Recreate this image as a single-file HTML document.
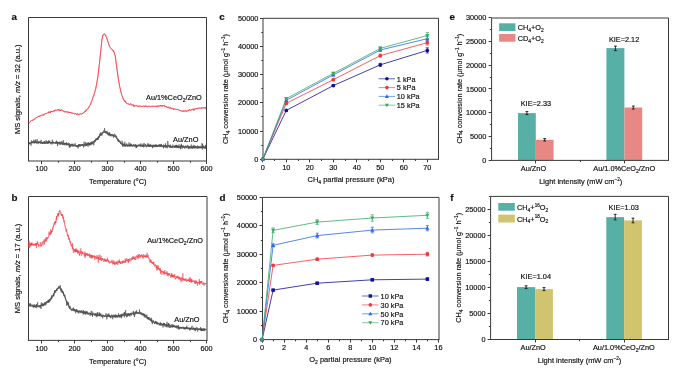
<!DOCTYPE html>
<html><head><meta charset="utf-8"><style>
html,body{margin:0;padding:0;background:#fff;}
body{width:685px;height:373px;overflow:hidden;}
svg{display:block;will-change:transform;font-family:"Liberation Sans",sans-serif;fill:#111;}
text{stroke:#111;stroke-width:0.17px;}
</style></head><body>
<svg width="685" height="373" viewBox="0 0 685 373">
<rect width="685" height="373" fill="#fff"/>
<line x1="28.5" y1="17.5" x2="28.5" y2="161.0" stroke="#3a3a3a" stroke-width="1" />
<line x1="28.0" y1="161.0" x2="207.0" y2="161.0" stroke="#3a3a3a" stroke-width="1" />
<line x1="28.5" y1="17.5" x2="206.5" y2="17.5" stroke="#3a3a3a" stroke-width="1" />
<line x1="206.5" y1="17.5" x2="206.5" y2="161.0" stroke="#3a3a3a" stroke-width="1" />
<line x1="41.5" y1="161.0" x2="41.5" y2="164.0" stroke="#3a3a3a" stroke-width="1" />
<line x1="58.5" y1="161.0" x2="58.5" y2="162.7" stroke="#3a3a3a" stroke-width="1" />
<line x1="74.5" y1="161.0" x2="74.5" y2="164.0" stroke="#3a3a3a" stroke-width="1" />
<line x1="91.5" y1="161.0" x2="91.5" y2="162.7" stroke="#3a3a3a" stroke-width="1" />
<line x1="107.5" y1="161.0" x2="107.5" y2="164.0" stroke="#3a3a3a" stroke-width="1" />
<line x1="124.5" y1="161.0" x2="124.5" y2="162.7" stroke="#3a3a3a" stroke-width="1" />
<line x1="140.5" y1="161.0" x2="140.5" y2="164.0" stroke="#3a3a3a" stroke-width="1" />
<line x1="157.5" y1="161.0" x2="157.5" y2="162.7" stroke="#3a3a3a" stroke-width="1" />
<line x1="173.5" y1="161.0" x2="173.5" y2="164.0" stroke="#3a3a3a" stroke-width="1" />
<line x1="190.5" y1="161.0" x2="190.5" y2="162.7" stroke="#3a3a3a" stroke-width="1" />
<line x1="206.5" y1="161.0" x2="206.5" y2="164.0" stroke="#3a3a3a" stroke-width="1" />
<text transform="translate(41.5 170.9) scale(1 1.08)" font-size="7.35" text-anchor="middle" font-weight="normal" >100</text>
<text transform="translate(74.5 170.9) scale(1 1.08)" font-size="7.35" text-anchor="middle" font-weight="normal" >200</text>
<text transform="translate(107.5 170.9) scale(1 1.08)" font-size="7.35" text-anchor="middle" font-weight="normal" >300</text>
<text transform="translate(140.5 170.9) scale(1 1.08)" font-size="7.35" text-anchor="middle" font-weight="normal" >400</text>
<text transform="translate(173.5 170.9) scale(1 1.08)" font-size="7.35" text-anchor="middle" font-weight="normal" >500</text>
<text transform="translate(206.5 170.9) scale(1 1.08)" font-size="7.35" text-anchor="middle" font-weight="normal" >600</text>
<text transform="translate(117.8 184.0) scale(1 1.08)" font-size="7.5" text-anchor="middle" font-weight="normal" >Temperature (°C)</text>
<text transform="translate(19.9,89.25) rotate(-90)" font-size="7.5" text-anchor="middle">MS signals, <tspan font-style="italic">m/z</tspan> = 32 (a.u.)</text>
<line x1="28.5" y1="196.5" x2="28.5" y2="340.4" stroke="#3a3a3a" stroke-width="1" />
<line x1="28.0" y1="340.4" x2="207.5" y2="340.4" stroke="#3a3a3a" stroke-width="1" />
<line x1="28.5" y1="196.5" x2="207.0" y2="196.5" stroke="#3a3a3a" stroke-width="1" />
<line x1="207.0" y1="196.5" x2="207.0" y2="340.4" stroke="#3a3a3a" stroke-width="1" />
<line x1="41.5" y1="340.4" x2="41.5" y2="343.4" stroke="#3a3a3a" stroke-width="1" />
<line x1="58.5" y1="340.4" x2="58.5" y2="342.09999999999997" stroke="#3a3a3a" stroke-width="1" />
<line x1="74.5" y1="340.4" x2="74.5" y2="343.4" stroke="#3a3a3a" stroke-width="1" />
<line x1="91.5" y1="340.4" x2="91.5" y2="342.09999999999997" stroke="#3a3a3a" stroke-width="1" />
<line x1="107.5" y1="340.4" x2="107.5" y2="343.4" stroke="#3a3a3a" stroke-width="1" />
<line x1="124.5" y1="340.4" x2="124.5" y2="342.09999999999997" stroke="#3a3a3a" stroke-width="1" />
<line x1="140.5" y1="340.4" x2="140.5" y2="343.4" stroke="#3a3a3a" stroke-width="1" />
<line x1="157.5" y1="340.4" x2="157.5" y2="342.09999999999997" stroke="#3a3a3a" stroke-width="1" />
<line x1="173.5" y1="340.4" x2="173.5" y2="343.4" stroke="#3a3a3a" stroke-width="1" />
<line x1="190.5" y1="340.4" x2="190.5" y2="342.09999999999997" stroke="#3a3a3a" stroke-width="1" />
<line x1="206.5" y1="340.4" x2="206.5" y2="343.4" stroke="#3a3a3a" stroke-width="1" />
<text transform="translate(41.5 350.5) scale(1 1.08)" font-size="7.35" text-anchor="middle" font-weight="normal" >100</text>
<text transform="translate(74.5 350.5) scale(1 1.08)" font-size="7.35" text-anchor="middle" font-weight="normal" >200</text>
<text transform="translate(107.5 350.5) scale(1 1.08)" font-size="7.35" text-anchor="middle" font-weight="normal" >300</text>
<text transform="translate(140.5 350.5) scale(1 1.08)" font-size="7.35" text-anchor="middle" font-weight="normal" >400</text>
<text transform="translate(173.5 350.5) scale(1 1.08)" font-size="7.35" text-anchor="middle" font-weight="normal" >500</text>
<text transform="translate(206.5 350.5) scale(1 1.08)" font-size="7.35" text-anchor="middle" font-weight="normal" >600</text>
<text transform="translate(117.8 363.6) scale(1 1.08)" font-size="7.5" text-anchor="middle" font-weight="normal" >Temperature (°C)</text>
<text transform="translate(19.9,268.45) rotate(-90)" font-size="7.5" text-anchor="middle">MS signals, <tspan font-style="italic">m/z</tspan> = 17 (a.u.)</text>
<text x="11.6" y="20.2" font-size="9.8" font-weight="bold">a</text>
<text x="11.6" y="200.7" font-size="9.8" font-weight="bold">b</text>
<polyline points="28.30,123.05 29.10,122.44 29.90,121.93 30.70,121.16 31.50,120.73 32.30,120.14 33.10,119.52 33.90,119.05 34.70,118.64 35.50,118.07 36.30,117.74 37.10,117.49 37.90,116.55 38.70,116.50 39.50,116.18 40.30,116.07 41.10,115.38 41.90,115.18 42.70,114.69 43.50,114.46 44.30,113.96 45.10,113.81 45.90,113.51 46.70,113.24 47.50,113.03 48.30,112.72 49.10,112.51 49.90,112.28 50.70,112.04 51.50,111.51 52.30,111.45 53.10,111.06 53.90,110.95 54.70,110.69 55.50,110.19 56.30,110.36 57.10,109.92 57.90,109.96 58.70,109.86 59.50,109.96 60.30,110.22 61.10,110.10 61.90,110.69 62.70,110.74 63.50,111.15 64.30,111.44 65.10,111.51 65.90,111.84 66.70,111.84 67.50,111.83 68.30,112.10 69.10,112.33 69.90,112.67 70.70,112.54 71.50,113.06 72.30,112.91 73.10,113.17 73.90,113.41 74.70,113.53 75.50,113.69 76.30,114.22 77.10,113.84 77.90,114.64 78.70,114.21 79.50,114.29 80.30,114.26 81.10,114.02 81.90,113.72 82.70,113.29 83.50,112.88 84.30,112.25 85.10,111.82 85.90,111.17 86.70,110.20 87.50,109.26 88.30,108.22 89.10,106.76 89.90,105.38 90.70,103.48 91.50,101.33 92.30,99.62 93.10,97.26 93.90,95.15 94.70,92.75 95.50,89.42 96.30,85.79 97.10,81.29 97.90,75.92 98.70,69.90 99.50,63.10 100.30,55.34 101.10,46.82 101.90,40.21 102.70,35.90 103.50,34.51 104.30,34.00 105.10,34.46 105.90,35.76 106.70,37.80 107.50,40.61 108.30,43.57 109.10,45.21 109.90,47.01 110.70,48.27 111.50,49.20 112.30,50.10 113.10,50.85 113.90,52.15 114.70,54.09 115.50,57.94 116.30,63.85 117.10,69.94 117.90,76.08 118.70,80.98 119.50,85.38 120.30,89.35 121.10,92.55 121.90,95.49 122.70,97.30 123.50,99.04 124.30,100.54 125.10,101.67 125.90,102.74 126.70,102.99 127.50,103.73 128.30,104.17 129.10,104.55 129.90,104.84 130.70,104.82 131.50,105.17 132.30,105.16 133.10,105.20 133.90,105.59 134.70,105.73 135.50,105.97 136.30,105.87 137.10,105.71 137.90,106.01 138.70,106.26 139.50,105.95 140.30,106.35 141.10,106.23 141.90,106.18 142.70,106.36 143.50,106.17 144.30,106.26 145.10,106.41 145.90,106.42 146.70,106.29 147.50,106.64 148.30,106.32 149.10,106.34 149.90,106.42 150.70,106.59 151.50,106.44 152.30,106.36 153.10,106.31 153.90,106.35 154.70,106.21 155.50,106.17 156.30,106.37 157.10,106.23 157.90,106.29 158.70,106.15 159.50,106.16 160.30,106.33 161.10,106.14 161.90,106.04 162.70,105.91 163.50,105.49 164.30,105.76 165.10,106.01 165.90,106.57 166.70,106.90 167.50,107.10 168.30,107.48 169.10,107.90 169.90,108.19 170.70,108.43 171.50,108.60 172.30,108.78 173.10,108.74 173.90,108.97 174.70,109.19 175.50,109.29 176.30,109.65 177.10,109.43 177.90,109.49 178.70,109.97 179.50,110.10 180.30,110.53 181.10,110.82 181.90,110.94 182.70,111.18 183.50,111.27 184.30,111.25 185.10,111.09 185.90,111.00 186.70,110.96 187.50,110.71 188.30,110.45 189.10,110.33 189.90,109.91 190.70,110.01 191.50,109.83 192.30,109.14 193.10,109.07 193.90,108.87 194.70,108.97 195.50,108.83 196.30,108.56 197.10,108.43 197.90,108.39 198.70,108.38 199.50,108.19 200.30,108.27 201.10,108.23 201.90,107.89 202.70,107.93 203.50,107.63 204.30,107.65 205.10,107.82 205.90,107.74" fill="none" stroke="#f0343c" stroke-width="0.9" stroke-linejoin="round" stroke-opacity="0.6"/>
<polyline points="28.30,122.81 28.70,122.72 29.10,122.79 29.50,123.06 29.90,122.22 30.30,121.39 30.70,121.25 31.10,120.74 31.50,120.33 31.90,120.32 32.30,120.23 32.70,120.70 33.10,119.64 33.50,119.97 33.90,119.91 34.30,118.91 34.70,119.36 35.10,118.72 35.50,117.99 35.90,118.07 36.30,117.75 36.70,117.42 37.10,117.23 37.50,117.18 37.90,117.11 38.30,116.32 38.70,116.52 39.10,115.65 39.50,116.26 39.90,116.24 40.30,115.86 40.70,115.73 41.10,115.69 41.50,114.96 41.90,114.98 42.30,115.15 42.70,115.21 43.10,114.77 43.50,115.58 43.90,114.24 44.30,114.57 44.70,114.54 45.10,113.76 45.50,113.30 45.90,112.99 46.30,113.45 46.70,113.73 47.10,113.21 47.50,113.03 47.90,112.64 48.30,112.93 48.70,111.59 49.10,112.52 49.50,112.30 49.90,111.54 50.30,113.01 50.70,111.29 51.10,111.31 51.50,111.13 51.90,112.06 52.30,111.04 52.70,111.62 53.10,111.46 53.50,111.18 53.90,110.34 54.30,110.52 54.70,111.41 55.10,109.95 55.50,110.04 55.90,110.23 56.30,110.56 56.70,110.22 57.10,110.36 57.50,109.49 57.90,110.35 58.30,110.16 58.70,109.19 59.10,110.62 59.50,111.00 59.90,109.69 60.30,110.14 60.70,110.85 61.10,109.66 61.50,109.55 61.90,109.98 62.30,110.44 62.70,110.57 63.10,111.23 63.50,111.21 63.90,110.65 64.30,111.58 64.70,112.27 65.10,112.06 65.50,112.06 65.90,111.70 66.30,112.22 66.70,111.43 67.10,112.28 67.50,111.99 67.90,112.62 68.30,112.40 68.70,111.78 69.10,112.40 69.50,112.97 69.90,111.99 70.30,112.33 70.70,112.31 71.10,112.07 71.50,113.25 71.90,113.50 72.30,113.36 72.70,113.21 73.10,113.18 73.50,113.41 73.90,113.08 74.30,113.92 74.70,114.09 75.10,114.15 75.50,113.59 75.90,113.96 76.30,113.94 76.70,114.90 77.10,114.26 77.50,113.39 77.90,114.48 78.30,115.19 78.70,114.68 79.10,114.79 79.50,114.41 79.90,113.48 80.30,113.49 80.70,113.64 81.10,114.02 81.50,114.06 81.90,114.06 82.30,113.40 82.70,113.77 83.10,112.99 83.50,112.56 83.90,113.02 84.30,111.99 84.70,110.91 85.10,111.35 85.50,111.53 85.90,109.72 86.30,110.52 86.70,110.08 87.10,109.10 87.50,108.56 87.90,108.47 88.30,107.87 88.70,108.08 89.10,107.07 89.50,105.51 89.90,105.05 90.30,104.89 90.70,104.49 91.10,102.82 91.50,101.76 91.90,101.40 92.30,99.49 92.70,98.29 93.10,96.71 93.50,96.00 93.90,96.03 94.30,93.17 94.70,92.49 95.10,90.42 95.50,89.56 95.90,88.16 96.30,85.69 96.70,83.96 97.10,81.62 97.50,79.00 97.90,76.92 98.30,73.55 98.70,69.84 99.10,66.26 99.50,62.63 99.90,59.58 100.30,55.13 100.70,52.20 101.10,47.78 101.50,43.41 101.90,39.95 102.30,38.10 102.70,35.16 103.10,35.09 103.50,35.15 103.90,33.89 104.30,33.84 104.70,33.86 105.10,34.62 105.50,35.01 105.90,35.93 106.30,36.87 106.70,37.66 107.10,39.52 107.50,40.21 107.90,41.38 108.30,42.53 108.70,43.64 109.10,45.11 109.50,46.73 109.90,47.18 110.30,47.56 110.70,47.96 111.10,48.69 111.50,49.15 111.90,49.43 112.30,49.39 112.70,50.21 113.10,51.34 113.50,50.48 113.90,52.06 114.30,52.09 114.70,54.23 115.10,55.29 115.50,57.04 115.90,60.93 116.30,64.70 116.70,66.86 117.10,70.51 117.50,73.15 117.90,75.20 118.30,78.97 118.70,80.97 119.10,82.76 119.50,85.89 119.90,87.63 120.30,89.06 120.70,91.38 121.10,92.21 121.50,94.39 121.90,95.01 122.30,96.80 122.70,96.99 123.10,99.02 123.50,99.25 123.90,100.51 124.30,100.16 124.70,100.90 125.10,102.02 125.50,100.86 125.90,102.01 126.30,103.33 126.70,103.41 127.10,103.95 127.50,103.64 127.90,104.27 128.30,103.89 128.70,103.76 129.10,103.75 129.50,104.39 129.90,104.50 130.30,104.56 130.70,103.34 131.10,104.12 131.50,104.87 131.90,105.32 132.30,105.01 132.70,104.96 133.10,104.39 133.50,106.42 133.90,105.09 134.30,106.41 134.70,106.43 135.10,105.91 135.50,105.59 135.90,105.96 136.30,105.44 136.70,106.12 137.10,106.04 137.50,106.31 137.90,106.53 138.30,106.90 138.70,105.97 139.10,106.64 139.50,105.83 139.90,105.81 140.30,105.95 140.70,105.81 141.10,106.71 141.50,106.70 141.90,106.87 142.30,106.31 142.70,106.45 143.10,106.08 143.50,105.84 143.90,106.57 144.30,106.50 144.70,105.89 145.10,106.65 145.50,105.61 145.90,106.32 146.30,106.12 146.70,106.16 147.10,105.91 147.50,106.83 147.90,106.65 148.30,106.93 148.70,106.46 149.10,105.82 149.50,106.23 149.90,105.86 150.30,106.60 150.70,106.94 151.10,106.54 151.50,106.12 151.90,106.23 152.30,106.49 152.70,105.74 153.10,106.46 153.50,106.48 153.90,106.15 154.30,106.20 154.70,106.47 155.10,106.02 155.50,106.02 155.90,106.73 156.30,106.47 156.70,107.12 157.10,105.90 157.50,105.53 157.90,106.73 158.30,106.72 158.70,105.93 159.10,105.58 159.50,106.20 159.90,105.41 160.30,106.01 160.70,105.14 161.10,105.95 161.50,105.04 161.90,105.83 162.30,106.56 162.70,105.71 163.10,106.14 163.50,105.50 163.90,105.41 164.30,105.22 164.70,106.48 165.10,106.14 165.50,107.07 165.90,105.99 166.30,106.60 166.70,106.90 167.10,107.65 167.50,107.98 167.90,107.02 168.30,106.95 168.70,106.83 169.10,108.37 169.50,107.87 169.90,107.76 170.30,108.16 170.70,107.15 171.10,107.63 171.50,108.92 171.90,108.76 172.30,108.73 172.70,108.29 173.10,109.08 173.50,109.68 173.90,108.39 174.30,109.02 174.70,108.88 175.10,109.30 175.50,109.21 175.90,109.20 176.30,108.94 176.70,109.40 177.10,109.21 177.50,109.50 177.90,109.62 178.30,110.05 178.70,109.61 179.10,109.87 179.50,110.65 179.90,110.23 180.30,110.37 180.70,111.04 181.10,110.92 181.50,110.97 181.90,111.13 182.30,110.56 182.70,111.37 183.10,111.77 183.50,111.43 183.90,110.46 184.30,111.27 184.70,110.70 185.10,110.98 185.50,111.10 185.90,110.47 186.30,111.56 186.70,110.88 187.10,111.23 187.50,111.09 187.90,111.32 188.30,111.15 188.70,109.83 189.10,110.39 189.50,109.28 189.90,109.91 190.30,110.31 190.70,110.28 191.10,110.34 191.50,109.48 191.90,109.69 192.30,109.48 192.70,109.89 193.10,109.93 193.50,108.95 193.90,110.72 194.30,108.92 194.70,108.68 195.10,109.04 195.50,109.04 195.90,108.88 196.30,108.27 196.70,109.17 197.10,108.47 197.50,109.08 197.90,108.96 198.30,107.71 198.70,107.79 199.10,107.74 199.50,108.25 199.90,108.12 200.30,108.18 200.70,107.66 201.10,108.18 201.50,108.58 201.90,107.31 202.30,107.79 202.70,107.95 203.10,107.75 203.50,107.69 203.90,108.54 204.30,108.29 204.70,108.07 205.10,107.32 205.50,108.65 205.90,107.78 206.30,107.34" fill="none" stroke="#f0343c" stroke-width="0.8" stroke-linejoin="round" stroke-opacity="0.9"/>
<polyline points="28.30,143.66 28.80,143.30 29.30,143.88 29.80,143.03 30.30,143.08 30.80,143.18 31.30,142.62 31.80,142.76 32.30,142.68 32.80,142.44 33.30,142.59 33.80,142.35 34.30,141.85 34.80,142.82 35.30,141.54 35.80,142.38 36.30,142.46 36.80,142.19 37.30,142.09 37.80,141.80 38.30,142.29 38.80,142.00 39.30,142.11 39.80,142.27 40.30,141.77 40.80,142.78 41.30,142.53 41.80,142.55 42.30,143.34 42.80,142.49 43.30,142.81 43.80,142.54 44.30,142.81 44.80,142.10 45.30,143.00 45.80,143.10 46.30,142.36 46.80,142.57 47.30,142.31 47.80,142.72 48.30,142.51 48.80,142.89 49.30,142.35 49.80,142.30 50.30,142.97 50.80,143.07 51.30,142.65 51.80,142.53 52.30,142.46 52.80,142.38 53.30,142.08 53.80,142.73 54.30,142.81 54.80,142.71 55.30,143.24 55.80,142.97 56.30,142.80 56.80,143.02 57.30,142.45 57.80,143.08 58.30,142.64 58.80,142.90 59.30,143.29 59.80,142.92 60.30,142.74 60.80,143.23 61.30,143.78 61.80,143.61 62.30,144.20 62.80,143.76 63.30,143.41 63.80,143.63 64.30,143.31 64.80,143.60 65.30,143.88 65.80,143.60 66.30,143.86 66.80,144.25 67.30,144.43 67.80,144.67 68.30,144.11 68.80,144.60 69.30,145.02 69.80,144.80 70.30,145.21 70.80,144.76 71.30,145.29 71.80,145.61 72.30,144.70 72.80,145.00 73.30,145.75 73.80,145.24 74.30,145.49 74.80,145.84 75.30,145.79 75.80,145.70 76.30,145.53 76.80,145.76 77.30,145.61 77.80,145.99 78.30,145.65 78.80,145.75 79.30,145.84 79.80,144.79 80.30,145.21 80.80,145.30 81.30,145.13 81.80,145.28 82.30,144.77 82.80,145.49 83.30,145.75 83.80,144.77 84.30,145.09 84.80,144.61 85.30,145.10 85.80,144.50 86.30,145.27 86.80,144.33 87.30,143.63 87.80,144.03 88.30,143.65 88.80,144.08 89.30,144.21 89.80,143.38 90.30,143.54 90.80,143.45 91.30,142.94 91.80,142.87 92.30,143.47 92.80,142.31 93.30,142.20 93.80,141.98 94.30,141.31 94.80,140.85 95.30,140.04 95.80,139.88 96.30,139.65 96.80,139.42 97.30,138.92 97.80,138.68 98.30,137.22 98.80,137.35 99.30,136.22 99.80,135.20 100.30,134.90 100.80,134.72 101.30,133.96 101.80,133.64 102.30,132.72 102.80,132.35 103.30,132.69 103.80,132.04 104.30,132.31 104.80,131.71 105.30,131.73 105.80,132.44 106.30,132.74 106.80,132.81 107.30,132.87 107.80,133.79 108.30,133.40 108.80,134.37 109.30,134.51 109.80,134.97 110.30,134.70 110.80,134.61 111.30,134.64 111.80,134.86 112.30,134.60 112.80,135.29 113.30,135.80 113.80,135.00 114.30,135.96 114.80,136.21 115.30,136.77 115.80,136.50 116.30,137.46 116.80,138.26 117.30,138.92 117.80,139.56 118.30,140.31 118.80,141.03 119.30,141.72 119.80,141.80 120.30,142.13 120.80,143.21 121.30,143.76 121.80,143.94 122.30,144.70 122.80,144.75 123.30,144.77 123.80,145.26 124.30,144.88 124.80,145.81 125.30,145.36 125.80,145.66 126.30,145.91 126.80,145.07 127.30,145.09 127.80,145.86 128.30,145.07 128.80,145.59 129.30,145.66 129.80,145.30 130.30,145.59 130.80,144.75 131.30,145.83 131.80,145.68 132.30,145.38 132.80,146.12 133.30,145.77 133.80,145.47 134.30,145.26 134.80,145.73 135.30,145.44 135.80,145.56 136.30,145.68 136.80,146.20 137.30,146.22 137.80,145.44 138.30,145.57 138.80,145.67 139.30,145.17 139.80,145.62 140.30,145.41 140.80,145.75 141.30,145.26 141.80,145.51 142.30,145.41 142.80,146.07 143.30,145.66 143.80,145.93 144.30,145.97 144.80,146.05 145.30,145.71 145.80,146.35 146.30,146.86 146.80,146.13 147.30,145.94 147.80,145.59 148.30,145.91 148.80,146.06 149.30,146.14 149.80,145.75 150.30,145.63 150.80,146.10 151.30,145.47 151.80,145.62 152.30,145.81 152.80,145.09 153.30,145.95 153.80,145.61 154.30,146.36 154.80,146.15 155.30,145.78 155.80,145.79 156.30,145.58 156.80,145.83 157.30,145.60 157.80,146.24 158.30,145.78 158.80,146.12 159.30,145.58 159.80,146.32 160.30,145.90 160.80,146.16 161.30,145.58 161.80,146.25 162.30,146.58 162.80,146.30 163.30,146.46 163.80,146.02 164.30,145.98 164.80,145.60 165.30,145.95 165.80,146.29 166.30,146.95 166.80,145.88 167.30,146.17 167.80,146.15 168.30,146.23 168.80,145.81 169.30,146.42 169.80,146.35 170.30,146.65 170.80,147.00 171.30,146.48 171.80,147.00 172.30,146.57 172.80,146.41 173.30,146.47 173.80,146.50 174.30,146.73 174.80,146.40 175.30,147.00 175.80,146.46 176.30,146.12 176.80,146.55 177.30,146.30 177.80,147.19 178.30,146.89 178.80,146.62 179.30,147.57 179.80,146.61 180.30,146.50 180.80,147.27 181.30,146.17 181.80,146.90 182.30,146.31 182.80,146.88 183.30,146.94 183.80,147.43 184.30,147.43 184.80,146.79 185.30,147.15 185.80,146.72 186.30,147.44 186.80,146.44 187.30,146.53 187.80,146.79 188.30,147.13 188.80,147.19 189.30,146.84 189.80,147.04 190.30,146.99 190.80,146.99 191.30,147.22 191.80,146.87 192.30,146.82 192.80,147.23 193.30,146.87 193.80,147.66 194.30,146.73 194.80,147.73 195.30,147.17 195.80,146.65 196.30,147.40 196.80,146.91 197.30,147.56 197.80,147.30 198.30,147.10 198.80,147.22 199.30,147.69 199.80,147.02 200.30,147.14 200.80,147.55 201.30,147.40 201.80,147.35 202.30,147.32 202.80,147.36 203.30,147.23 203.80,147.98 204.30,147.49 204.80,146.65 205.30,147.33 205.80,147.35 206.30,148.00" fill="none" stroke="#4a4a4a" stroke-width="1.3" stroke-linejoin="round" stroke-opacity="0.8"/>
<polyline points="28.30,143.90 28.55,144.28 28.80,143.32 29.05,143.52 29.30,142.47 29.55,143.25 29.80,142.35 30.05,143.47 30.30,143.90 30.55,143.26 30.80,144.16 31.05,145.75 31.30,140.41 31.55,142.68 31.80,141.98 32.05,142.05 32.30,141.01 32.55,142.51 32.80,142.12 33.05,141.66 33.30,142.04 33.55,141.63 33.80,139.67 34.05,143.40 34.30,141.85 34.55,141.12 34.80,142.48 35.05,141.40 35.30,139.72 35.55,143.08 35.80,140.26 36.05,141.86 36.30,142.24 36.55,143.59 36.80,143.43 37.05,139.09 37.30,141.30 37.55,141.70 37.80,143.37 38.05,144.16 38.30,142.81 38.55,141.52 38.80,143.38 39.05,141.86 39.30,141.85 39.55,142.01 39.80,142.99 40.05,142.67 40.30,143.48 40.55,143.84 40.80,143.00 41.05,139.89 41.30,140.62 41.55,142.68 41.80,142.45 42.05,143.73 42.30,142.52 42.55,142.40 42.80,143.62 43.05,143.76 43.30,142.34 43.55,143.12 43.80,141.35 44.05,141.56 44.30,143.96 44.55,141.05 44.80,143.61 45.05,143.35 45.30,143.45 45.55,143.60 45.80,143.22 46.05,140.24 46.30,141.50 46.55,141.94 46.80,143.61 47.05,141.36 47.30,141.82 47.55,142.20 47.80,144.05 48.05,141.01 48.30,141.11 48.55,143.29 48.80,140.26 49.05,142.97 49.30,142.10 49.55,140.87 49.80,142.14 50.05,141.50 50.30,142.78 50.55,143.00 50.80,144.24 51.05,142.59 51.30,142.71 51.55,141.96 51.80,142.57 52.05,144.39 52.30,139.77 52.55,143.33 52.80,142.01 53.05,142.68 53.30,142.96 53.55,143.54 53.80,142.86 54.05,142.17 54.30,142.94 54.55,142.61 54.80,142.38 55.05,142.84 55.30,143.58 55.55,142.78 55.80,142.82 56.05,141.25 56.30,142.54 56.55,140.66 56.80,143.51 57.05,141.71 57.30,144.20 57.55,146.09 57.80,142.39 58.05,144.32 58.30,143.33 58.55,142.31 58.80,142.03 59.05,143.61 59.30,144.56 59.55,143.45 59.80,141.44 60.05,142.00 60.30,142.93 60.55,144.72 60.80,143.57 61.05,143.66 61.30,141.35 61.55,143.16 61.80,143.33 62.05,143.27 62.30,141.55 62.55,144.06 62.80,144.04 63.05,144.71 63.30,140.26 63.55,142.82 63.80,144.78 64.05,144.15 64.30,145.34 64.55,142.92 64.80,144.12 65.05,143.19 65.30,144.32 65.55,143.48 65.80,144.65 66.05,145.29 66.30,144.89 66.55,142.21 66.80,145.28 67.05,144.79 67.30,143.20 67.55,143.42 67.80,144.46 68.05,145.14 68.30,144.06 68.55,142.83 68.80,144.98 69.05,144.91 69.30,147.46 69.55,143.41 69.80,147.66 70.05,146.85 70.30,145.32 70.55,146.86 70.80,145.19 71.05,146.21 71.30,144.37 71.55,145.31 71.80,145.21 72.05,143.58 72.30,145.05 72.55,144.66 72.80,146.05 73.05,146.85 73.30,145.30 73.55,145.57 73.80,145.74 74.05,143.71 74.30,145.86 74.55,145.59 74.80,145.54 75.05,144.39 75.30,143.42 75.55,145.32 75.80,145.94 76.05,147.07 76.30,146.83 76.55,147.18 76.80,145.98 77.05,146.83 77.30,145.32 77.55,146.22 77.80,146.54 78.05,148.46 78.30,145.75 78.55,144.07 78.80,146.96 79.05,144.56 79.30,145.34 79.55,145.06 79.80,144.36 80.05,146.80 80.30,145.97 80.55,144.61 80.80,145.34 81.05,144.76 81.30,145.89 81.55,144.77 81.80,144.31 82.05,144.42 82.30,144.62 82.55,145.39 82.80,144.03 83.05,144.92 83.30,145.48 83.55,147.53 83.80,145.87 84.05,141.62 84.30,144.31 84.55,144.40 84.80,145.15 85.05,146.49 85.30,145.55 85.55,142.16 85.80,144.99 86.05,144.73 86.30,145.02 86.55,146.02 86.80,143.28 87.05,145.65 87.30,142.56 87.55,144.39 87.80,144.70 88.05,146.74 88.30,143.40 88.55,142.25 88.80,144.81 89.05,143.26 89.30,145.65 89.55,143.08 89.80,142.83 90.05,145.09 90.30,143.74 90.55,144.67 90.80,141.92 91.05,145.23 91.30,142.68 91.55,144.13 91.80,142.01 92.05,141.29 92.30,142.58 92.55,142.91 92.80,144.29 93.05,142.78 93.30,143.00 93.55,142.76 93.80,145.26 94.05,140.74 94.30,142.82 94.55,141.06 94.80,141.30 95.05,140.19 95.30,141.84 95.55,138.95 95.80,138.65 96.05,139.64 96.30,138.36 96.55,140.17 96.80,140.17 97.05,138.09 97.30,139.54 97.55,137.72 97.80,138.16 98.05,137.95 98.30,139.74 98.55,137.38 98.80,136.08 99.05,137.04 99.30,137.78 99.55,134.31 99.80,135.32 100.05,135.10 100.30,132.52 100.55,134.40 100.80,135.73 101.05,134.60 101.30,133.10 101.55,134.61 101.80,134.18 102.05,135.59 102.30,132.29 102.55,132.42 102.80,132.64 103.05,132.22 103.30,132.26 103.55,131.88 103.80,131.12 104.05,130.05 104.30,131.19 104.55,128.13 104.80,130.72 105.05,131.35 105.30,132.61 105.55,133.10 105.80,131.15 106.05,132.78 106.30,133.48 106.55,132.71 106.80,131.12 107.05,130.73 107.30,134.15 107.55,134.46 107.80,133.92 108.05,132.62 108.30,135.54 108.55,135.42 108.80,134.16 109.05,134.08 109.30,132.26 109.55,135.31 109.80,132.77 110.05,135.34 110.30,135.44 110.55,134.79 110.80,136.46 111.05,134.40 111.30,135.44 111.55,135.70 111.80,135.13 112.05,134.43 112.30,136.28 112.55,135.44 112.80,134.81 113.05,134.90 113.30,135.29 113.55,137.73 113.80,135.43 114.05,135.16 114.30,134.38 114.55,134.35 114.80,133.76 115.05,136.28 115.30,136.23 115.55,135.26 115.80,134.96 116.05,136.46 116.30,136.50 116.55,135.92 116.80,138.08 117.05,138.30 117.30,138.51 117.55,139.84 117.80,138.71 118.05,141.34 118.30,139.14 118.55,141.20 118.80,141.67 119.05,141.00 119.30,141.98 119.55,140.49 119.80,140.55 120.05,142.26 120.30,141.95 120.55,143.65 120.80,143.25 121.05,144.08 121.30,143.93 121.55,143.98 121.80,144.02 122.05,140.71 122.30,143.74 122.55,146.64 122.80,142.60 123.05,144.47 123.30,145.90 123.55,145.36 123.80,146.54 124.05,145.67 124.30,143.73 124.55,144.80 124.80,141.81 125.05,146.29 125.30,146.81 125.55,144.76 125.80,145.86 126.05,144.83 126.30,143.72 126.55,144.83 126.80,143.59 127.05,144.73 127.30,145.60 127.55,146.18 127.80,146.82 128.05,145.05 128.30,145.69 128.55,145.91 128.80,146.07 129.05,142.33 129.30,144.63 129.55,146.37 129.80,144.27 130.05,145.79 130.30,146.44 130.55,143.45 130.80,145.34 131.05,145.82 131.30,145.58 131.55,143.89 131.80,145.96 132.05,144.97 132.30,146.50 132.55,146.08 132.80,145.01 133.05,145.81 133.30,144.87 133.55,144.86 133.80,143.90 134.05,145.38 134.30,146.53 134.55,145.77 134.80,145.63 135.05,144.96 135.30,145.08 135.55,146.47 135.80,144.01 136.05,147.93 136.30,145.59 136.55,148.06 136.80,146.96 137.05,145.21 137.30,146.48 137.55,145.96 137.80,146.18 138.05,146.55 138.30,145.07 138.55,145.00 138.80,145.22 139.05,144.18 139.30,145.39 139.55,145.94 139.80,145.96 140.05,145.90 140.30,145.25 140.55,146.55 140.80,143.43 141.05,145.25 141.30,145.32 141.55,146.67 141.80,146.42 142.05,146.56 142.30,145.70 142.55,146.73 142.80,144.58 143.05,145.89 143.30,143.35 143.55,147.22 143.80,147.43 144.05,145.02 144.30,144.74 144.55,143.37 144.80,143.99 145.05,145.81 145.30,145.51 145.55,144.06 145.80,145.13 146.05,144.95 146.30,146.20 146.55,146.47 146.80,145.45 147.05,145.82 147.30,145.69 147.55,143.39 147.80,145.89 148.05,145.63 148.30,146.52 148.55,143.68 148.80,146.54 149.05,145.00 149.30,146.00 149.55,147.04 149.80,144.09 150.05,144.27 150.30,146.81 150.55,144.46 150.80,144.66 151.05,146.38 151.30,145.50 151.55,146.58 151.80,146.06 152.05,145.70 152.30,146.81 152.55,148.14 152.80,145.63 153.05,147.37 153.30,146.99 153.55,145.87 153.80,146.25 154.05,144.72 154.30,145.08 154.55,146.06 154.80,145.71 155.05,147.20 155.30,144.34 155.55,145.46 155.80,145.08 156.05,145.62 156.30,147.08 156.55,144.48 156.80,146.75 157.05,145.17 157.30,146.25 157.55,146.94 157.80,145.53 158.05,146.59 158.30,145.99 158.55,145.68 158.80,145.49 159.05,143.99 159.30,145.08 159.55,146.10 159.80,146.14 160.05,144.29 160.30,147.05 160.55,146.59 160.80,144.53 161.05,143.98 161.30,146.55 161.55,144.06 161.80,145.19 162.05,145.96 162.30,145.89 162.55,145.98 162.80,146.49 163.05,145.19 163.30,145.54 163.55,148.35 163.80,144.56 164.05,145.62 164.30,146.25 164.55,145.42 164.80,147.49 165.05,146.24 165.30,147.00 165.55,143.30 165.80,147.50 166.05,147.47 166.30,145.38 166.55,147.66 166.80,146.52 167.05,147.26 167.30,148.25 167.55,146.37 167.80,140.93 168.05,146.27 168.30,144.89 168.55,145.42 168.80,145.47 169.05,145.53 169.30,147.61 169.55,147.25 169.80,145.35 170.05,147.60 170.30,144.51 170.55,145.65 170.80,146.22 171.05,147.69 171.30,147.20 171.55,146.90 171.80,147.85 172.05,147.21 172.30,147.93 172.55,145.57 172.80,144.59 173.05,146.00 173.30,147.38 173.55,146.76 173.80,147.46 174.05,147.27 174.30,147.06 174.55,147.40 174.80,145.72 175.05,147.72 175.30,145.42 175.55,146.40 175.80,144.98 176.05,147.10 176.30,144.84 176.55,148.10 176.80,145.08 177.05,146.86 177.30,146.42 177.55,145.62 177.80,147.97 178.05,146.13 178.30,148.22 178.55,145.48 178.80,145.73 179.05,144.42 179.30,147.24 179.55,147.65 179.80,146.89 180.05,146.47 180.30,145.64 180.55,149.25 180.80,147.49 181.05,144.65 181.30,146.34 181.55,143.82 181.80,148.44 182.05,148.88 182.30,148.32 182.55,146.66 182.80,146.08 183.05,145.19 183.30,147.33 183.55,145.93 183.80,146.34 184.05,146.06 184.30,146.43 184.55,147.77 184.80,148.65 185.05,146.96 185.30,146.82 185.55,145.58 185.80,145.46 186.05,145.65 186.30,147.80 186.55,147.11 186.80,147.91 187.05,147.31 187.30,146.41 187.55,145.49 187.80,146.46 188.05,145.30 188.30,149.09 188.55,147.18 188.80,146.49 189.05,149.10 189.30,146.48 189.55,147.53 189.80,146.74 190.05,147.32 190.30,146.53 190.55,147.49 190.80,148.53 191.05,145.56 191.30,144.50 191.55,148.46 191.80,147.16 192.05,147.95 192.30,146.67 192.55,148.71 192.80,149.02 193.05,145.71 193.30,147.76 193.55,146.35 193.80,145.24 194.05,146.70 194.30,147.67 194.55,145.52 194.80,145.62 195.05,148.42 195.30,147.10 195.55,147.51 195.80,145.80 196.05,146.35 196.30,147.22 196.55,147.30 196.80,147.25 197.05,148.86 197.30,147.29 197.55,145.40 197.80,146.14 198.05,147.05 198.30,148.54 198.55,146.36 198.80,146.70 199.05,147.11 199.30,146.36 199.55,146.24 199.80,146.90 200.05,148.27 200.30,147.71 200.55,146.87 200.80,147.64 201.05,145.78 201.30,148.32 201.55,148.05 201.80,147.56 202.05,143.12 202.30,149.52 202.55,144.01 202.80,146.17 203.05,146.27 203.30,148.07 203.55,145.65 203.80,147.59 204.05,147.17 204.30,147.02 204.55,148.31 204.80,148.96 205.05,147.83 205.30,147.09 205.55,144.88 205.80,149.06 206.05,147.10 206.30,145.39" fill="none" stroke="#4a4a4a" stroke-width="0.65" stroke-linejoin="round" stroke-opacity="0.95"/>
<polyline points="28.30,245.89 28.80,245.09 29.30,244.62 29.80,243.86 30.30,244.29 30.80,244.71 31.30,244.43 31.80,244.05 32.30,244.68 32.80,244.86 33.30,244.43 33.80,244.64 34.30,244.32 34.80,245.25 35.30,244.33 35.80,244.09 36.30,244.92 36.80,244.63 37.30,243.42 37.80,244.29 38.30,244.88 38.80,244.59 39.30,244.81 39.80,245.36 40.30,244.68 40.80,244.28 41.30,244.32 41.80,243.62 42.30,243.42 42.80,243.20 43.30,241.76 43.80,241.63 44.30,240.75 44.80,241.50 45.30,239.77 45.80,240.32 46.30,240.31 46.80,239.18 47.30,239.01 47.80,237.58 48.30,237.79 48.80,236.67 49.30,235.74 49.80,234.42 50.30,234.47 50.80,232.67 51.30,232.02 51.80,230.31 52.30,229.74 52.80,228.81 53.30,226.96 53.80,225.54 54.30,223.83 54.80,222.68 55.30,221.46 55.80,220.76 56.30,217.96 56.80,217.36 57.30,215.51 57.80,215.99 58.30,214.29 58.80,213.93 59.30,214.12 59.80,213.17 60.30,213.61 60.80,213.72 61.30,213.48 61.80,214.79 62.30,215.12 62.80,217.09 63.30,218.25 63.80,221.52 64.30,222.25 64.80,224.06 65.30,227.16 65.80,228.92 66.30,230.60 66.80,232.01 67.30,233.49 67.80,235.03 68.30,237.25 68.80,238.24 69.30,239.97 69.80,240.09 70.30,242.11 70.80,244.02 71.30,245.41 71.80,246.86 72.30,247.12 72.80,247.73 73.30,248.95 73.80,248.96 74.30,249.47 74.80,249.53 75.30,250.13 75.80,250.17 76.30,250.48 76.80,250.72 77.30,251.34 77.80,251.58 78.30,252.44 78.80,252.03 79.30,251.46 79.80,251.60 80.30,252.55 80.80,252.71 81.30,253.07 81.80,253.00 82.30,253.18 82.80,253.02 83.30,252.60 83.80,253.15 84.30,254.36 84.80,254.01 85.30,253.63 85.80,254.02 86.30,254.24 86.80,254.54 87.30,254.91 87.80,254.29 88.30,254.90 88.80,255.83 89.30,254.77 89.80,255.32 90.30,255.41 90.80,255.84 91.30,256.75 91.80,256.21 92.30,256.30 92.80,256.94 93.30,256.33 93.80,256.14 94.30,257.04 94.80,257.29 95.30,256.94 95.80,257.36 96.30,257.61 96.80,257.60 97.30,258.02 97.80,257.83 98.30,258.08 98.80,257.55 99.30,259.07 99.80,259.38 100.30,258.66 100.80,258.39 101.30,260.01 101.80,260.16 102.30,259.94 102.80,258.67 103.30,259.87 103.80,259.33 104.30,259.77 104.80,259.88 105.30,260.10 105.80,261.10 106.30,260.07 106.80,260.68 107.30,260.94 107.80,260.76 108.30,260.88 108.80,260.66 109.30,261.17 109.80,261.12 110.30,261.65 110.80,262.27 111.30,262.37 111.80,261.89 112.30,262.00 112.80,262.83 113.30,263.26 113.80,262.22 114.30,262.36 114.80,263.54 115.30,262.93 115.80,263.36 116.30,263.26 116.80,263.99 117.30,262.54 117.80,262.71 118.30,262.87 118.80,262.43 119.30,261.51 119.80,263.18 120.30,262.08 120.80,262.52 121.30,261.62 121.80,262.11 122.30,261.59 122.80,261.91 123.30,261.37 123.80,261.85 124.30,261.82 124.80,261.81 125.30,261.07 125.80,261.09 126.30,260.90 126.80,260.48 127.30,260.13 127.80,260.46 128.30,259.65 128.80,260.71 129.30,259.61 129.80,260.39 130.30,259.95 130.80,259.68 131.30,258.95 131.80,259.23 132.30,258.08 132.80,259.22 133.30,258.80 133.80,258.65 134.30,258.13 134.80,258.52 135.30,257.77 135.80,257.96 136.30,256.70 136.80,256.58 137.30,256.88 137.80,256.17 138.30,255.67 138.80,255.57 139.30,256.38 139.80,255.62 140.30,256.06 140.80,255.76 141.30,255.41 141.80,255.47 142.30,256.14 142.80,255.73 143.30,256.16 143.80,256.22 144.30,255.64 144.80,255.99 145.30,257.28 145.80,256.28 146.30,256.51 146.80,256.10 147.30,256.16 147.80,257.29 148.30,258.07 148.80,257.62 149.30,259.03 149.80,258.77 150.30,259.76 150.80,260.71 151.30,261.69 151.80,261.81 152.30,262.70 152.80,262.20 153.30,263.38 153.80,263.99 154.30,264.68 154.80,265.16 155.30,265.75 155.80,266.20 156.30,266.77 156.80,266.98 157.30,267.56 157.80,267.61 158.30,268.56 158.80,268.99 159.30,269.04 159.80,270.43 160.30,270.26 160.80,270.13 161.30,270.77 161.80,271.20 162.30,272.03 162.80,271.73 163.30,272.24 163.80,271.75 164.30,272.45 164.80,272.93 165.30,273.06 165.80,272.96 166.30,273.34 166.80,274.31 167.30,273.93 167.80,273.71 168.30,275.07 168.80,273.53 169.30,274.23 169.80,274.65 170.30,275.29 170.80,275.29 171.30,275.57 171.80,275.27 172.30,275.50 172.80,276.96 173.30,275.05 173.80,276.32 174.30,276.78 174.80,276.11 175.30,276.14 175.80,276.66 176.30,277.22 176.80,277.42 177.30,277.35 177.80,277.51 178.30,277.41 178.80,277.37 179.30,278.18 179.80,278.52 180.30,278.08 180.80,278.45 181.30,277.75 181.80,279.40 182.30,279.06 182.80,279.55 183.30,279.17 183.80,279.27 184.30,279.82 184.80,279.71 185.30,280.17 185.80,279.59 186.30,280.68 186.80,280.80 187.30,280.10 187.80,280.09 188.30,280.34 188.80,280.13 189.30,281.24 189.80,280.89 190.30,281.17 190.80,280.58 191.30,280.80 191.80,281.22 192.30,281.24 192.80,281.87 193.30,281.51 193.80,280.97 194.30,280.79 194.80,282.11 195.30,282.29 195.80,282.18 196.30,282.41 196.80,282.52 197.30,282.64 197.80,282.41 198.30,283.01 198.80,282.28 199.30,281.98 199.80,283.09 200.30,282.54 200.80,283.04 201.30,283.23 201.80,282.51 202.30,283.13 202.80,283.56 203.30,283.30 203.80,283.58 204.30,283.72 204.80,283.45 205.30,283.75 205.80,283.05 206.30,284.01" fill="none" stroke="#f0343c" stroke-width="0.9" stroke-linejoin="round" stroke-opacity="0.5"/>
<polyline points="28.30,244.97 28.55,242.45 28.80,247.48 29.05,240.66 29.30,244.29 29.55,247.81 29.80,244.51 30.05,245.04 30.30,242.96 30.55,246.61 30.80,242.73 31.05,244.95 31.30,244.75 31.55,243.01 31.80,245.79 32.05,242.44 32.30,243.48 32.55,244.41 32.80,243.84 33.05,245.11 33.30,245.76 33.55,243.99 33.80,243.62 34.05,243.65 34.30,243.87 34.55,245.58 34.80,244.09 35.05,245.01 35.30,244.30 35.55,243.23 35.80,245.73 36.05,243.00 36.30,244.54 36.55,248.16 36.80,243.01 37.05,244.54 37.30,241.29 37.55,243.94 37.80,242.54 38.05,244.21 38.30,243.98 38.55,244.97 38.80,247.09 39.05,245.21 39.30,245.75 39.55,244.71 39.80,244.39 40.05,243.47 40.30,241.99 40.55,244.59 40.80,246.73 41.05,244.92 41.30,245.00 41.55,246.29 41.80,243.09 42.05,242.62 42.30,241.56 42.55,241.72 42.80,242.55 43.05,245.59 43.30,242.18 43.55,240.76 43.80,241.17 44.05,241.52 44.30,239.15 44.55,244.46 44.80,242.21 45.05,241.42 45.30,241.58 45.55,238.58 45.80,237.72 46.05,241.77 46.30,241.21 46.55,237.10 46.80,239.33 47.05,238.76 47.30,239.19 47.55,238.85 47.80,237.02 48.05,237.69 48.30,237.29 48.55,236.63 48.80,233.66 49.05,231.63 49.30,234.45 49.55,232.82 49.80,235.13 50.05,235.37 50.30,234.26 50.55,229.30 50.80,232.53 51.05,234.12 51.30,230.86 51.55,232.73 51.80,231.88 52.05,230.69 52.30,231.85 52.55,228.09 52.80,229.85 53.05,226.46 53.30,225.99 53.55,227.22 53.80,223.67 54.05,223.55 54.30,224.25 54.55,221.80 54.80,224.28 55.05,224.70 55.30,221.69 55.55,223.11 55.80,220.92 56.05,222.62 56.30,219.00 56.55,215.95 56.80,219.79 57.05,216.86 57.30,215.00 57.55,215.04 57.80,213.17 58.05,214.88 58.30,213.16 58.55,216.46 58.80,214.87 59.05,211.14 59.30,211.04 59.55,212.17 59.80,210.05 60.05,212.64 60.30,212.79 60.55,211.84 60.80,212.33 61.05,214.05 61.30,215.63 61.55,216.00 61.80,214.18 62.05,215.85 62.30,214.18 62.55,216.62 62.80,215.49 63.05,218.83 63.30,216.86 63.55,218.12 63.80,220.44 64.05,222.25 64.30,220.40 64.55,222.78 64.80,224.84 65.05,226.06 65.30,227.11 65.55,227.95 65.80,228.39 66.05,231.71 66.30,231.34 66.55,229.46 66.80,229.02 67.05,233.17 67.30,235.54 67.55,234.87 67.80,236.66 68.05,235.44 68.30,234.90 68.55,238.69 68.80,238.45 69.05,240.00 69.30,237.68 69.55,240.61 69.80,240.09 70.05,242.82 70.30,241.48 70.55,242.11 70.80,242.81 71.05,246.15 71.30,245.00 71.55,244.47 71.80,244.67 72.05,245.18 72.30,249.30 72.55,243.28 72.80,246.73 73.05,249.18 73.30,252.81 73.55,248.53 73.80,250.11 74.05,250.29 74.30,250.83 74.55,249.67 74.80,252.19 75.05,250.28 75.30,252.39 75.55,248.74 75.80,251.86 76.05,248.82 76.30,248.62 76.55,251.66 76.80,249.87 77.05,251.85 77.30,249.77 77.55,253.77 77.80,251.58 78.05,250.04 78.30,252.05 78.55,253.18 78.80,250.89 79.05,252.87 79.30,255.19 79.55,253.59 79.80,255.81 80.05,251.71 80.30,253.47 80.55,250.53 80.80,248.41 81.05,251.94 81.30,251.42 81.55,255.61 81.80,253.36 82.05,251.81 82.30,251.63 82.55,254.12 82.80,252.27 83.05,252.70 83.30,253.49 83.55,253.82 83.80,253.90 84.05,255.32 84.30,255.79 84.55,256.44 84.80,251.65 85.05,257.85 85.30,254.37 85.55,256.06 85.80,253.25 86.05,254.86 86.30,254.77 86.55,254.70 86.80,253.11 87.05,255.59 87.30,253.29 87.55,254.65 87.80,255.95 88.05,255.97 88.30,254.55 88.55,254.71 88.80,254.96 89.05,253.65 89.30,253.45 89.55,257.67 89.80,254.88 90.05,255.66 90.30,254.51 90.55,257.54 90.80,258.27 91.05,255.48 91.30,256.61 91.55,254.84 91.80,258.56 92.05,257.41 92.30,254.92 92.55,258.02 92.80,256.80 93.05,256.95 93.30,256.94 93.55,255.52 93.80,255.79 94.05,257.54 94.30,256.65 94.55,255.42 94.80,259.82 95.05,256.65 95.30,256.22 95.55,256.11 95.80,258.21 96.05,258.71 96.30,257.75 96.55,258.76 96.80,255.42 97.05,257.16 97.30,257.13 97.55,257.92 97.80,258.73 98.05,255.17 98.30,262.77 98.55,257.08 98.80,258.94 99.05,259.74 99.30,259.87 99.55,259.08 99.80,254.60 100.05,257.32 100.30,260.08 100.55,257.72 100.80,257.60 101.05,255.79 101.30,261.05 101.55,260.09 101.80,258.13 102.05,259.30 102.30,259.42 102.55,258.01 102.80,259.30 103.05,260.13 103.30,260.63 103.55,261.73 103.80,260.00 104.05,259.35 104.30,260.67 104.55,259.24 104.80,258.40 105.05,261.94 105.30,259.79 105.55,260.58 105.80,261.41 106.05,258.92 106.30,261.52 106.55,261.31 106.80,260.58 107.05,261.36 107.30,259.75 107.55,257.71 107.80,260.56 108.05,259.72 108.30,262.37 108.55,261.56 108.80,260.48 109.05,261.39 109.30,263.36 109.55,263.13 109.80,262.10 110.05,262.27 110.30,261.32 110.55,261.62 110.80,262.74 111.05,261.80 111.30,262.49 111.55,260.51 111.80,259.79 112.05,259.82 112.30,261.73 112.55,264.36 112.80,264.22 113.05,261.13 113.30,260.38 113.55,263.85 113.80,263.42 114.05,260.82 114.30,264.39 114.55,263.15 114.80,264.85 115.05,263.46 115.30,264.28 115.55,263.47 115.80,261.64 116.05,262.68 116.30,262.04 116.55,264.22 116.80,261.56 117.05,260.76 117.30,263.95 117.55,264.60 117.80,265.00 118.05,264.45 118.30,260.64 118.55,261.77 118.80,261.94 119.05,262.66 119.30,259.51 119.55,262.57 119.80,262.93 120.05,261.09 120.30,262.58 120.55,264.07 120.80,262.35 121.05,263.75 121.30,263.62 121.55,262.68 121.80,262.57 122.05,261.41 122.30,263.68 122.55,261.13 122.80,260.74 123.05,262.70 123.30,260.56 123.55,262.17 123.80,263.02 124.05,261.55 124.30,261.52 124.55,262.64 124.80,262.34 125.05,258.95 125.30,259.22 125.55,262.98 125.80,261.55 126.05,257.90 126.30,258.89 126.55,260.81 126.80,260.37 127.05,261.31 127.30,260.67 127.55,261.20 127.80,258.72 128.05,261.24 128.30,263.10 128.55,259.03 128.80,262.01 129.05,261.45 129.30,260.89 129.55,259.78 129.80,258.11 130.05,258.44 130.30,260.75 130.55,260.98 130.80,261.25 131.05,260.79 131.30,260.63 131.55,258.61 131.80,257.41 132.05,259.38 132.30,259.73 132.55,259.04 132.80,256.63 133.05,257.98 133.30,256.50 133.55,258.75 133.80,256.92 134.05,258.09 134.30,258.69 134.55,258.31 134.80,259.99 135.05,256.29 135.30,259.70 135.55,259.03 135.80,259.58 136.05,259.51 136.30,257.73 136.55,257.99 136.80,257.28 137.05,255.11 137.30,256.05 137.55,257.50 137.80,255.84 138.05,259.34 138.30,254.25 138.55,255.76 138.80,257.91 139.05,255.34 139.30,254.50 139.55,254.10 139.80,254.96 140.05,258.14 140.30,256.49 140.55,256.60 140.80,255.06 141.05,257.01 141.30,255.92 141.55,254.42 141.80,255.09 142.05,256.04 142.30,257.46 142.55,255.69 142.80,256.51 143.05,258.74 143.30,254.68 143.55,254.07 143.80,257.33 144.05,256.58 144.30,255.85 144.55,256.42 144.80,255.61 145.05,256.89 145.30,255.72 145.55,257.43 145.80,254.63 146.05,255.21 146.30,256.63 146.55,255.86 146.80,257.63 147.05,252.80 147.30,256.11 147.55,257.38 147.80,256.52 148.05,255.25 148.30,254.91 148.55,256.85 148.80,257.60 149.05,258.69 149.30,260.14 149.55,259.89 149.80,262.48 150.05,261.46 150.30,259.59 150.55,262.53 150.80,262.12 151.05,260.03 151.30,261.43 151.55,262.86 151.80,261.93 152.05,263.36 152.30,262.76 152.55,263.52 152.80,262.34 153.05,263.66 153.30,262.89 153.55,264.70 153.80,261.57 154.05,264.80 154.30,266.41 154.55,265.72 154.80,265.12 155.05,266.20 155.30,264.46 155.55,264.74 155.80,265.68 156.05,266.25 156.30,268.12 156.55,265.67 156.80,270.66 157.05,265.19 157.30,266.57 157.55,267.90 157.80,269.87 158.05,267.53 158.30,265.54 158.55,269.48 158.80,269.04 159.05,267.72 159.30,267.98 159.55,268.67 159.80,270.02 160.05,271.02 160.30,268.10 160.55,273.75 160.80,270.55 161.05,270.24 161.30,271.93 161.55,271.28 161.80,274.67 162.05,273.03 162.30,271.07 162.55,271.19 162.80,271.18 163.05,271.55 163.30,273.17 163.55,271.39 163.80,274.80 164.05,272.47 164.30,272.50 164.55,274.21 164.80,270.08 165.05,271.71 165.30,274.05 165.55,273.31 165.80,273.38 166.05,274.08 166.30,272.74 166.55,273.46 166.80,271.83 167.05,271.19 167.30,275.84 167.55,272.74 167.80,273.15 168.05,276.31 168.30,275.91 168.55,273.70 168.80,273.79 169.05,274.53 169.30,273.35 169.55,275.62 169.80,275.13 170.05,275.19 170.30,276.18 170.55,276.21 170.80,277.93 171.05,277.54 171.30,272.94 171.55,276.80 171.80,273.96 172.05,273.59 172.30,276.77 172.55,274.80 172.80,275.44 173.05,277.53 173.30,275.09 173.55,274.84 173.80,276.68 174.05,278.06 174.30,277.13 174.55,274.19 174.80,275.57 175.05,276.37 175.30,279.47 175.55,278.04 175.80,278.05 176.05,278.64 176.30,276.52 176.55,277.74 176.80,277.83 177.05,275.78 177.30,277.25 177.55,278.17 177.80,275.87 178.05,278.68 178.30,278.69 178.55,279.17 178.80,276.62 179.05,277.98 179.30,279.18 179.55,279.14 179.80,276.93 180.05,278.48 180.30,280.30 180.55,278.21 180.80,278.95 181.05,282.21 181.30,278.51 181.55,278.49 181.80,277.28 182.05,277.86 182.30,281.05 182.55,278.78 182.80,273.29 183.05,277.79 183.30,279.23 183.55,280.41 183.80,278.30 184.05,280.49 184.30,278.82 184.55,280.12 184.80,280.43 185.05,280.64 185.30,279.20 185.55,279.65 185.80,280.70 186.05,278.16 186.30,280.35 186.55,280.91 186.80,281.74 187.05,280.23 187.30,280.08 187.55,280.61 187.80,279.40 188.05,280.21 188.30,281.16 188.55,281.03 188.80,279.16 189.05,280.25 189.30,277.71 189.55,281.99 189.80,280.10 190.05,281.27 190.30,277.40 190.55,280.89 190.80,281.70 191.05,282.53 191.30,279.17 191.55,282.41 191.80,278.88 192.05,280.15 192.30,282.01 192.55,280.94 192.80,280.98 193.05,280.43 193.30,281.82 193.55,281.59 193.80,281.33 194.05,280.24 194.30,280.92 194.55,282.29 194.80,283.61 195.05,281.76 195.30,283.89 195.55,281.87 195.80,280.35 196.05,282.90 196.30,280.63 196.55,282.66 196.80,283.67 197.05,281.72 197.30,282.08 197.55,285.83 197.80,282.65 198.05,282.73 198.30,283.53 198.55,282.30 198.80,282.36 199.05,283.09 199.30,279.12 199.55,284.68 199.80,281.13 200.05,281.16 200.30,283.55 200.55,282.85 200.80,281.05 201.05,283.21 201.30,281.30 201.55,281.98 201.80,280.86 202.05,281.88 202.30,283.70 202.55,283.35 202.80,283.66 203.05,284.60 203.30,283.24 203.55,282.40 203.80,282.99 204.05,285.83 204.30,283.53 204.55,283.99 204.80,283.43 205.05,283.97 205.30,284.29 205.55,283.69 205.80,283.53 206.05,283.53 206.30,282.61" fill="none" stroke="#f0343c" stroke-width="0.6" stroke-linejoin="round" stroke-opacity="0.85"/>
<polyline points="28.30,304.37 28.80,305.40 29.30,304.41 29.80,304.97 30.30,304.79 30.80,305.63 31.30,305.81 31.80,305.30 32.30,305.27 32.80,305.93 33.30,305.89 33.80,306.32 34.30,306.73 34.80,306.20 35.30,306.48 35.80,306.08 36.30,305.67 36.80,306.26 37.30,306.55 37.80,305.91 38.30,306.47 38.80,305.94 39.30,305.91 39.80,306.07 40.30,306.79 40.80,305.77 41.30,305.31 41.80,305.40 42.30,304.64 42.80,304.70 43.30,304.84 43.80,304.64 44.30,303.99 44.80,303.40 45.30,303.23 45.80,304.01 46.30,302.58 46.80,302.62 47.30,302.14 47.80,301.51 48.30,301.42 48.80,301.67 49.30,300.56 49.80,300.15 50.30,299.19 50.80,298.73 51.30,298.25 51.80,297.91 52.30,296.71 52.80,296.04 53.30,295.00 53.80,294.49 54.30,293.25 54.80,291.96 55.30,290.74 55.80,290.51 56.30,290.09 56.80,289.19 57.30,288.75 57.80,288.36 58.30,288.38 58.80,287.52 59.30,288.17 59.80,287.78 60.30,288.60 60.80,288.68 61.30,289.52 61.80,290.52 62.30,290.88 62.80,291.96 63.30,292.68 63.80,294.62 64.30,295.54 64.80,296.57 65.30,298.20 65.80,299.78 66.30,300.97 66.80,301.64 67.30,302.73 67.80,303.90 68.30,304.62 68.80,306.21 69.30,307.50 69.80,306.59 70.30,308.99 70.80,308.80 71.30,309.82 71.80,309.83 72.30,310.32 72.80,309.54 73.30,310.22 73.80,310.58 74.30,309.39 74.80,310.95 75.30,310.55 75.80,310.33 76.30,310.81 76.80,310.66 77.30,311.48 77.80,311.36 78.30,310.95 78.80,311.95 79.30,311.90 79.80,311.47 80.30,311.21 80.80,311.87 81.30,311.74 81.80,311.74 82.30,312.16 82.80,312.44 83.30,312.98 83.80,312.61 84.30,312.09 84.80,312.61 85.30,312.69 85.80,312.98 86.30,312.52 86.80,313.28 87.30,313.54 87.80,313.07 88.30,313.56 88.80,313.73 89.30,313.47 89.80,313.96 90.30,313.56 90.80,314.00 91.30,314.49 91.80,314.34 92.30,314.19 92.80,314.69 93.30,313.99 93.80,314.36 94.30,314.21 94.80,315.40 95.30,314.84 95.80,314.18 96.30,314.59 96.80,314.37 97.30,315.35 97.80,315.21 98.30,315.08 98.80,315.66 99.30,315.17 99.80,314.77 100.30,314.97 100.80,315.61 101.30,316.38 101.80,316.01 102.30,315.53 102.80,314.90 103.30,315.56 103.80,315.72 104.30,316.41 104.80,316.19 105.30,315.74 105.80,316.17 106.30,316.60 106.80,316.33 107.30,315.99 107.80,316.55 108.30,316.24 108.80,316.06 109.30,316.54 109.80,316.46 110.30,316.53 110.80,315.93 111.30,316.22 111.80,315.90 112.30,316.17 112.80,316.58 113.30,316.03 113.80,316.19 114.30,316.67 114.80,316.23 115.30,316.67 115.80,315.74 116.30,315.55 116.80,316.16 117.30,315.74 117.80,316.12 118.30,315.69 118.80,315.53 119.30,315.47 119.80,316.55 120.30,315.51 120.80,314.46 121.30,315.54 121.80,315.64 122.30,315.41 122.80,314.54 123.30,315.21 123.80,314.95 124.30,315.19 124.80,314.98 125.30,314.19 125.80,315.22 126.30,315.47 126.80,314.56 127.30,314.55 127.80,314.57 128.30,313.59 128.80,314.95 129.30,314.71 129.80,314.02 130.30,314.10 130.80,313.99 131.30,313.40 131.80,313.06 132.30,313.28 132.80,313.38 133.30,313.21 133.80,312.70 134.30,312.75 134.80,312.99 135.30,312.71 135.80,313.59 136.30,313.46 136.80,312.77 137.30,312.52 137.80,312.94 138.30,312.78 138.80,313.00 139.30,313.01 139.80,312.90 140.30,313.56 140.80,313.54 141.30,313.16 141.80,313.35 142.30,313.89 142.80,314.30 143.30,314.42 143.80,314.04 144.30,315.63 144.80,315.47 145.30,315.73 145.80,315.98 146.30,316.95 146.80,317.65 147.30,317.81 147.80,318.67 148.30,317.60 148.80,318.56 149.30,319.53 149.80,319.53 150.30,319.35 150.80,320.06 151.30,320.51 151.80,320.52 152.30,321.26 152.80,321.91 153.30,321.39 153.80,322.03 154.30,322.75 154.80,322.91 155.30,322.64 155.80,322.76 156.30,322.64 156.80,323.02 157.30,323.91 157.80,323.75 158.30,323.79 158.80,323.38 159.30,323.61 159.80,324.29 160.30,323.71 160.80,323.73 161.30,323.76 161.80,324.30 162.30,324.08 162.80,324.67 163.30,324.35 163.80,324.38 164.30,325.07 164.80,325.22 165.30,324.94 165.80,324.66 166.30,325.22 166.80,324.88 167.30,325.28 167.80,325.84 168.30,324.58 168.80,326.17 169.30,325.75 169.80,325.67 170.30,326.00 170.80,325.69 171.30,325.97 171.80,326.33 172.30,326.31 172.80,325.70 173.30,326.75 173.80,325.71 174.30,326.64 174.80,326.92 175.30,327.09 175.80,326.48 176.30,326.55 176.80,326.94 177.30,326.79 177.80,326.95 178.30,327.15 178.80,328.02 179.30,327.87 179.80,327.05 180.30,327.66 180.80,327.46 181.30,328.00 181.80,327.71 182.30,327.64 182.80,327.14 183.30,328.15 183.80,328.50 184.30,329.06 184.80,328.46 185.30,328.82 185.80,327.89 186.30,327.56 186.80,328.33 187.30,328.44 187.80,328.31 188.30,328.43 188.80,328.20 189.30,328.19 189.80,328.81 190.30,328.58 190.80,329.10 191.30,328.82 191.80,328.31 192.30,329.43 192.80,329.52 193.30,328.84 193.80,328.65 194.30,329.18 194.80,329.69 195.30,328.94 195.80,328.74 196.30,329.00 196.80,329.27 197.30,328.47 197.80,329.37 198.30,328.95 198.80,329.63 199.30,329.53 199.80,329.12 200.30,329.25 200.80,329.34 201.30,329.69 201.80,330.28 202.30,329.24 202.80,329.11 203.30,329.44 203.80,329.26 204.30,329.37 204.80,329.70 205.30,330.00 205.80,329.48 206.30,329.14" fill="none" stroke="#4a4a4a" stroke-width="1.2" stroke-linejoin="round" stroke-opacity="0.75"/>
<polyline points="28.30,304.49 28.55,306.44 28.80,305.76 29.05,303.22 29.30,304.29 29.55,306.19 29.80,305.94 30.05,306.59 30.30,303.24 30.55,303.93 30.80,305.25 31.05,304.45 31.30,305.67 31.55,305.80 31.80,306.27 32.05,305.76 32.30,306.65 32.55,306.97 32.80,306.26 33.05,304.64 33.30,307.71 33.55,306.44 33.80,306.71 34.05,306.42 34.30,304.28 34.55,306.92 34.80,305.43 35.05,304.75 35.30,307.78 35.55,305.85 35.80,306.57 36.05,307.30 36.30,308.18 36.55,304.03 36.80,305.32 37.05,307.04 37.30,305.41 37.55,302.28 37.80,306.40 38.05,306.49 38.30,307.18 38.55,306.50 38.80,305.69 39.05,306.48 39.30,306.18 39.55,305.60 39.80,307.37 40.05,306.56 40.30,304.84 40.55,307.23 40.80,306.90 41.05,308.94 41.30,302.36 41.55,305.69 41.80,305.27 42.05,304.07 42.30,305.84 42.55,303.17 42.80,306.33 43.05,305.16 43.30,303.94 43.55,306.13 43.80,304.83 44.05,304.55 44.30,302.44 44.55,304.53 44.80,305.47 45.05,304.98 45.30,301.97 45.55,305.08 45.80,305.21 46.05,304.17 46.30,302.55 46.55,301.06 46.80,301.64 47.05,301.89 47.30,302.77 47.55,302.95 47.80,301.22 48.05,299.96 48.30,301.26 48.55,299.96 48.80,302.97 49.05,299.66 49.30,301.48 49.55,301.63 49.80,299.15 50.05,301.24 50.30,299.51 50.55,298.38 50.80,297.82 51.05,298.72 51.30,299.50 51.55,295.51 51.80,298.15 52.05,296.82 52.30,295.68 52.55,296.07 52.80,295.78 53.05,295.33 53.30,295.95 53.55,293.43 53.80,296.43 54.05,293.97 54.30,292.35 54.55,290.25 54.80,292.08 55.05,291.15 55.30,292.11 55.55,291.68 55.80,292.76 56.05,289.96 56.30,290.79 56.55,289.03 56.80,288.80 57.05,290.82 57.30,288.52 57.55,288.29 57.80,287.75 58.05,288.35 58.30,288.49 58.55,287.47 58.80,286.11 59.05,287.83 59.30,286.40 59.55,287.01 59.80,287.82 60.05,288.05 60.30,285.18 60.55,290.35 60.80,289.60 61.05,291.36 61.30,292.48 61.55,288.72 61.80,289.61 62.05,291.04 62.30,292.31 62.55,290.98 62.80,291.65 63.05,293.82 63.30,291.98 63.55,293.88 63.80,295.54 64.05,294.54 64.30,296.45 64.55,296.03 64.80,294.91 65.05,296.84 65.30,297.92 65.55,298.40 65.80,299.46 66.05,300.51 66.30,300.94 66.55,305.63 66.80,301.09 67.05,301.86 67.30,302.19 67.55,302.46 67.80,305.35 68.05,301.92 68.30,305.02 68.55,303.26 68.80,305.01 69.05,307.18 69.30,306.32 69.55,308.79 69.80,306.36 70.05,307.52 70.30,307.45 70.55,308.53 70.80,308.39 71.05,308.53 71.30,309.25 71.55,310.60 71.80,309.55 72.05,309.54 72.30,309.21 72.55,308.80 72.80,307.99 73.05,308.56 73.30,309.94 73.55,307.66 73.80,310.83 74.05,309.59 74.30,309.03 74.55,309.57 74.80,311.08 75.05,310.79 75.30,310.72 75.55,312.59 75.80,313.35 76.05,309.05 76.30,311.73 76.55,309.81 76.80,309.13 77.05,310.21 77.30,312.14 77.55,310.60 77.80,310.46 78.05,312.80 78.30,311.78 78.55,311.14 78.80,313.49 79.05,311.96 79.30,310.56 79.55,310.19 79.80,311.06 80.05,311.84 80.30,312.83 80.55,312.77 80.80,311.95 81.05,310.45 81.30,313.04 81.55,312.09 81.80,310.71 82.05,310.58 82.30,312.38 82.55,312.58 82.80,313.19 83.05,310.78 83.30,314.62 83.55,310.15 83.80,312.35 84.05,314.06 84.30,313.75 84.55,311.38 84.80,313.32 85.05,314.11 85.30,313.56 85.55,311.52 85.80,314.77 86.05,310.83 86.30,312.89 86.55,311.59 86.80,312.41 87.05,312.57 87.30,313.61 87.55,311.52 87.80,313.36 88.05,314.71 88.30,313.28 88.55,313.88 88.80,313.79 89.05,312.41 89.30,312.91 89.55,313.46 89.80,314.02 90.05,315.95 90.30,315.51 90.55,313.01 90.80,313.10 91.05,312.44 91.30,310.91 91.55,315.34 91.80,314.44 92.05,311.48 92.30,312.80 92.55,316.78 92.80,314.56 93.05,314.63 93.30,314.31 93.55,313.18 93.80,312.73 94.05,313.18 94.30,314.41 94.55,313.99 94.80,315.17 95.05,313.65 95.30,315.13 95.55,315.47 95.80,314.07 96.05,312.97 96.30,317.21 96.55,315.51 96.80,316.10 97.05,314.25 97.30,312.68 97.55,316.39 97.80,312.21 98.05,314.66 98.30,314.25 98.55,315.21 98.80,315.96 99.05,316.01 99.30,312.50 99.55,316.30 99.80,312.82 100.05,315.99 100.30,314.68 100.55,313.88 100.80,314.66 101.05,313.74 101.30,315.38 101.55,316.58 101.80,316.46 102.05,315.58 102.30,316.91 102.55,316.23 102.80,318.29 103.05,316.34 103.30,315.02 103.55,315.44 103.80,314.91 104.05,315.52 104.30,315.73 104.55,316.78 104.80,316.93 105.05,316.65 105.30,316.57 105.55,315.18 105.80,315.44 106.05,313.13 106.30,315.21 106.55,315.57 106.80,319.33 107.05,314.56 107.30,316.31 107.55,315.83 107.80,314.32 108.05,316.57 108.30,316.27 108.55,314.48 108.80,313.41 109.05,316.18 109.30,314.51 109.55,317.07 109.80,315.91 110.05,316.89 110.30,315.87 110.55,318.12 110.80,317.08 111.05,318.09 111.30,316.37 111.55,314.97 111.80,314.48 112.05,315.58 112.30,316.54 112.55,315.41 112.80,319.17 113.05,316.08 113.30,316.71 113.55,316.24 113.80,314.59 114.05,317.41 114.30,316.89 114.55,317.15 114.80,314.93 115.05,316.08 115.30,316.00 115.55,317.46 115.80,314.33 116.05,316.83 116.30,317.54 116.55,315.46 116.80,314.96 117.05,317.56 117.30,316.22 117.55,317.29 117.80,316.81 118.05,317.18 118.30,315.63 118.55,313.24 118.80,316.64 119.05,314.96 119.30,316.54 119.55,315.12 119.80,317.74 120.05,315.42 120.30,316.72 120.55,317.04 120.80,315.56 121.05,316.03 121.30,318.24 121.55,314.44 121.80,317.35 122.05,314.39 122.30,313.56 122.55,314.82 122.80,315.57 123.05,315.46 123.30,314.92 123.55,314.74 123.80,312.63 124.05,313.18 124.30,317.32 124.55,311.96 124.80,312.89 125.05,315.99 125.30,314.82 125.55,310.08 125.80,314.02 126.05,313.11 126.30,313.42 126.55,317.29 126.80,316.01 127.05,314.56 127.30,314.73 127.55,316.62 127.80,313.28 128.05,315.51 128.30,313.76 128.55,315.54 128.80,314.72 129.05,313.47 129.30,315.65 129.55,314.95 129.80,316.49 130.05,313.64 130.30,314.25 130.55,313.16 130.80,315.46 131.05,312.94 131.30,313.79 131.55,315.36 131.80,314.34 132.05,313.97 132.30,313.88 132.55,313.91 132.80,314.24 133.05,313.00 133.30,310.86 133.55,314.93 133.80,311.92 134.05,315.48 134.30,313.51 134.55,317.07 134.80,314.56 135.05,313.60 135.30,314.21 135.55,311.32 135.80,313.27 136.05,312.60 136.30,313.08 136.55,310.52 136.80,310.34 137.05,313.97 137.30,313.15 137.55,312.55 137.80,313.01 138.05,312.33 138.30,312.57 138.55,314.04 138.80,312.93 139.05,314.12 139.30,312.40 139.55,309.47 139.80,312.54 140.05,313.21 140.30,312.04 140.55,312.99 140.80,312.89 141.05,314.72 141.30,314.66 141.55,315.02 141.80,312.75 142.05,314.18 142.30,315.41 142.55,314.10 142.80,313.89 143.05,313.13 143.30,315.25 143.55,314.58 143.80,315.77 144.05,314.51 144.30,317.45 144.55,315.05 144.80,313.75 145.05,315.75 145.30,316.32 145.55,317.54 145.80,315.58 146.05,315.73 146.30,316.30 146.55,316.38 146.80,314.46 147.05,318.22 147.30,319.11 147.55,316.82 147.80,316.75 148.05,318.00 148.30,317.36 148.55,319.54 148.80,317.95 149.05,319.66 149.30,317.54 149.55,317.50 149.80,317.51 150.05,317.86 150.30,320.34 150.55,321.04 150.80,320.35 151.05,320.62 151.30,317.79 151.55,322.09 151.80,319.34 152.05,322.66 152.30,324.21 152.55,321.45 152.80,322.30 153.05,322.45 153.30,320.19 153.55,320.56 153.80,321.24 154.05,322.40 154.30,323.37 154.55,322.58 154.80,323.90 155.05,321.99 155.30,320.95 155.55,322.81 155.80,322.78 156.05,321.17 156.30,324.27 156.55,321.88 156.80,322.24 157.05,323.47 157.30,321.93 157.55,324.09 157.80,323.86 158.05,324.00 158.30,323.49 158.55,322.96 158.80,322.66 159.05,324.04 159.30,325.40 159.55,324.73 159.80,324.27 160.05,325.10 160.30,325.56 160.55,322.41 160.80,323.96 161.05,325.56 161.30,323.30 161.55,323.57 161.80,324.96 162.05,323.97 162.30,325.78 162.55,323.95 162.80,325.12 163.05,327.53 163.30,325.90 163.55,322.85 163.80,324.99 164.05,323.38 164.30,324.61 164.55,322.99 164.80,325.46 165.05,326.95 165.30,326.80 165.55,323.98 165.80,324.63 166.05,324.65 166.30,324.05 166.55,327.21 166.80,324.32 167.05,321.85 167.30,325.71 167.55,325.73 167.80,327.25 168.05,327.31 168.30,325.24 168.55,322.94 168.80,326.40 169.05,326.61 169.30,327.87 169.55,323.77 169.80,324.32 170.05,327.72 170.30,327.85 170.55,327.50 170.80,325.92 171.05,327.58 171.30,325.35 171.55,324.55 171.80,326.05 172.05,326.30 172.30,327.21 172.55,327.61 172.80,324.14 173.05,326.70 173.30,326.99 173.55,324.88 173.80,326.16 174.05,326.59 174.30,327.12 174.55,325.56 174.80,325.92 175.05,325.35 175.30,327.16 175.55,326.38 175.80,326.11 176.05,327.66 176.30,326.72 176.55,325.50 176.80,328.41 177.05,328.25 177.30,327.67 177.55,325.88 177.80,328.56 178.05,326.52 178.30,324.99 178.55,327.17 178.80,329.58 179.05,326.87 179.30,328.18 179.55,329.18 179.80,327.77 180.05,327.21 180.30,327.65 180.55,328.38 180.80,327.09 181.05,328.18 181.30,328.47 181.55,327.37 181.80,328.74 182.05,328.59 182.30,327.54 182.55,327.75 182.80,328.14 183.05,327.86 183.30,327.82 183.55,326.86 183.80,328.26 184.05,329.05 184.30,328.96 184.55,327.22 184.80,328.92 185.05,329.01 185.30,327.18 185.55,328.95 185.80,328.14 186.05,327.92 186.30,328.68 186.55,328.17 186.80,325.76 187.05,328.72 187.30,327.14 187.55,328.40 187.80,329.36 188.05,328.28 188.30,328.04 188.55,328.76 188.80,329.22 189.05,327.63 189.30,327.90 189.55,329.28 189.80,330.62 190.05,328.72 190.30,329.79 190.55,327.86 190.80,328.78 191.05,328.87 191.30,327.26 191.55,328.80 191.80,328.61 192.05,325.79 192.30,328.75 192.55,329.22 192.80,329.17 193.05,329.28 193.30,327.57 193.55,328.03 193.80,328.69 194.05,327.90 194.30,328.39 194.55,330.42 194.80,327.91 195.05,328.57 195.30,331.19 195.55,328.85 195.80,327.83 196.05,329.35 196.30,329.28 196.55,329.24 196.80,327.11 197.05,329.45 197.30,329.58 197.55,331.60 197.80,329.98 198.05,328.67 198.30,329.58 198.55,330.02 198.80,329.07 199.05,329.21 199.30,328.79 199.55,329.87 199.80,329.92 200.05,328.18 200.30,329.85 200.55,327.10 200.80,330.84 201.05,328.84 201.30,330.16 201.55,331.08 201.80,328.15 202.05,330.83 202.30,329.73 202.55,330.84 202.80,329.06 203.05,328.68 203.30,331.04 203.55,330.02 203.80,329.59 204.05,328.18 204.30,331.11 204.55,329.15 204.80,329.30 205.05,328.74 205.30,329.58 205.55,329.32 205.80,329.50 206.05,329.47 206.30,328.92" fill="none" stroke="#4a4a4a" stroke-width="0.65" stroke-linejoin="round" stroke-opacity="0.95"/>
<text transform="translate(146.0 100.2) scale(1 1.08)" font-size="7.35" text-anchor="start" font-weight="normal" >Au/1%CeO<tspan font-size="5.0" dy="1.6">2</tspan><tspan dy="-1.6">/ZnO</tspan></text>
<text transform="translate(173.1 142.2) scale(1 1.08)" font-size="7.35" text-anchor="start" font-weight="normal" >Au/ZnO</text>
<text transform="translate(147.2 243.3) scale(1 1.08)" font-size="7.35" text-anchor="start" font-weight="normal" >Au/1%CeO<tspan font-size="5.0" dy="1.6">2</tspan><tspan dy="-1.6">/ZnO</tspan></text>
<text transform="translate(174.3 321.7) scale(1 1.08)" font-size="7.35" text-anchor="start" font-weight="normal" >Au/ZnO</text>
<line x1="263.0" y1="18.3" x2="263.0" y2="159.3" stroke="#3a3a3a" stroke-width="1" />
<line x1="262.5" y1="159.3" x2="439.0" y2="159.3" stroke="#3a3a3a" stroke-width="1" />
<line x1="263.0" y1="18.3" x2="438.5" y2="18.3" stroke="#3a3a3a" stroke-width="1" />
<line x1="438.5" y1="18.3" x2="438.5" y2="159.3" stroke="#3a3a3a" stroke-width="1" />
<line x1="262.5" y1="159.3" x2="262.5" y2="162.3" stroke="#3a3a3a" stroke-width="1" />
<text transform="translate(262.8 170.3) scale(1 1.08)" font-size="7.35" text-anchor="middle" font-weight="normal" >0</text>
<line x1="274.5" y1="159.3" x2="274.5" y2="161.0" stroke="#3a3a3a" stroke-width="1" />
<line x1="286.5" y1="159.3" x2="286.5" y2="162.3" stroke="#3a3a3a" stroke-width="1" />
<text transform="translate(286.3 170.3) scale(1 1.08)" font-size="7.35" text-anchor="middle" font-weight="normal" >10</text>
<line x1="298.5" y1="159.3" x2="298.5" y2="161.0" stroke="#3a3a3a" stroke-width="1" />
<line x1="309.5" y1="159.3" x2="309.5" y2="162.3" stroke="#3a3a3a" stroke-width="1" />
<text transform="translate(309.8 170.3) scale(1 1.08)" font-size="7.35" text-anchor="middle" font-weight="normal" >20</text>
<line x1="321.5" y1="159.3" x2="321.5" y2="161.0" stroke="#3a3a3a" stroke-width="1" />
<line x1="333.5" y1="159.3" x2="333.5" y2="162.3" stroke="#3a3a3a" stroke-width="1" />
<text transform="translate(333.3 170.3) scale(1 1.08)" font-size="7.35" text-anchor="middle" font-weight="normal" >30</text>
<line x1="345.5" y1="159.3" x2="345.5" y2="161.0" stroke="#3a3a3a" stroke-width="1" />
<line x1="356.5" y1="159.3" x2="356.5" y2="162.3" stroke="#3a3a3a" stroke-width="1" />
<text transform="translate(356.8 170.3) scale(1 1.08)" font-size="7.35" text-anchor="middle" font-weight="normal" >40</text>
<line x1="368.5" y1="159.3" x2="368.5" y2="161.0" stroke="#3a3a3a" stroke-width="1" />
<line x1="380.5" y1="159.3" x2="380.5" y2="162.3" stroke="#3a3a3a" stroke-width="1" />
<text transform="translate(380.3 170.3) scale(1 1.08)" font-size="7.35" text-anchor="middle" font-weight="normal" >50</text>
<line x1="392.5" y1="159.3" x2="392.5" y2="161.0" stroke="#3a3a3a" stroke-width="1" />
<line x1="403.5" y1="159.3" x2="403.5" y2="162.3" stroke="#3a3a3a" stroke-width="1" />
<text transform="translate(403.8 170.3) scale(1 1.08)" font-size="7.35" text-anchor="middle" font-weight="normal" >60</text>
<line x1="415.5" y1="159.3" x2="415.5" y2="161.0" stroke="#3a3a3a" stroke-width="1" />
<line x1="427.5" y1="159.3" x2="427.5" y2="162.3" stroke="#3a3a3a" stroke-width="1" />
<text transform="translate(427.3 170.3) scale(1 1.08)" font-size="7.35" text-anchor="middle" font-weight="normal" >70</text>
<line x1="263.0" y1="159.5" x2="260.0" y2="159.5" stroke="#3a3a3a" stroke-width="1" />
<text transform="translate(258.4 161.8) scale(1 1.08)" font-size="7.35" text-anchor="end" font-weight="normal" >0</text>
<line x1="263.0" y1="145.5" x2="261.3" y2="145.5" stroke="#3a3a3a" stroke-width="1" />
<line x1="263.0" y1="131.5" x2="260.0" y2="131.5" stroke="#3a3a3a" stroke-width="1" />
<text transform="translate(258.4 133.62) scale(1 1.08)" font-size="7.35" text-anchor="end" font-weight="normal" >10000</text>
<line x1="263.0" y1="116.5" x2="261.3" y2="116.5" stroke="#3a3a3a" stroke-width="1" />
<line x1="263.0" y1="102.5" x2="260.0" y2="102.5" stroke="#3a3a3a" stroke-width="1" />
<text transform="translate(258.4 105.44) scale(1 1.08)" font-size="7.35" text-anchor="end" font-weight="normal" >20000</text>
<line x1="263.0" y1="88.5" x2="261.3" y2="88.5" stroke="#3a3a3a" stroke-width="1" />
<line x1="263.0" y1="74.5" x2="260.0" y2="74.5" stroke="#3a3a3a" stroke-width="1" />
<text transform="translate(258.4 77.26) scale(1 1.08)" font-size="7.35" text-anchor="end" font-weight="normal" >30000</text>
<line x1="263.0" y1="60.5" x2="261.3" y2="60.5" stroke="#3a3a3a" stroke-width="1" />
<line x1="263.0" y1="46.5" x2="260.0" y2="46.5" stroke="#3a3a3a" stroke-width="1" />
<text transform="translate(258.4 49.08) scale(1 1.08)" font-size="7.35" text-anchor="end" font-weight="normal" >40000</text>
<line x1="263.0" y1="32.5" x2="261.3" y2="32.5" stroke="#3a3a3a" stroke-width="1" />
<line x1="263.0" y1="18.5" x2="260.0" y2="18.5" stroke="#3a3a3a" stroke-width="1" />
<text transform="translate(258.4 20.9) scale(1 1.08)" font-size="7.35" text-anchor="end" font-weight="normal" >50000</text>
<text x="219.2" y="20.0" font-size="9.8" font-weight="bold">c</text>
<text transform="translate(228.3,89.0) rotate(-90)" font-size="7.22" text-anchor="middle">CH<tspan font-size="5.0" dy="1.6">4</tspan><tspan dy="-1.6"> conversion rate (μmol g<tspan font-size="4.6" dy="-2.9">−1</tspan><tspan dy="2.9"> h<tspan font-size="4.6" dy="-2.9">−1</tspan><tspan dy="2.9">)</tspan></tspan></tspan></text>
<text transform="translate(351 182.2) scale(1 1.08)" font-size="7.48" text-anchor="middle" font-weight="normal" >CH<tspan font-size="5.0" dy="1.6">4</tspan><tspan dy="-1.6"> partial pressure (kPa)</tspan></text>
<polyline points="262.80,159.20 286.30,110.40 333.30,85.60 380.30,64.80 427.30,50.40" fill="none" stroke="#10109a" stroke-width="0.8" stroke-linejoin="round" />
<polyline points="262.80,159.20 286.30,103.30 333.30,79.70 380.30,55.60 427.30,42.70" fill="none" stroke="#f0383c" stroke-width="0.8" stroke-linejoin="round" />
<polyline points="262.80,159.20 286.30,100.30 333.30,74.90 380.30,50.00 427.30,38.70" fill="none" stroke="#2a6ae0" stroke-width="0.8" stroke-linejoin="round" />
<polyline points="262.80,159.20 286.30,98.60 333.30,73.40 380.30,48.40 427.30,35.50" fill="none" stroke="#3aaa66" stroke-width="0.8" stroke-linejoin="round" />
<circle cx="262.8" cy="159.2" r="1.8375000000000001" fill="#10109a"/>
<line x1="286.3" y1="109.80000000000001" x2="286.3" y2="111.0" stroke="#10109a" stroke-width="0.7" />
<line x1="284.7" y1="109.80000000000001" x2="287.90000000000003" y2="109.80000000000001" stroke="#10109a" stroke-width="0.7" />
<line x1="284.7" y1="111.0" x2="287.90000000000003" y2="111.0" stroke="#10109a" stroke-width="0.7" />
<circle cx="286.3" cy="110.4" r="1.8375000000000001" fill="#10109a"/>
<line x1="333.3" y1="84.8" x2="333.3" y2="86.39999999999999" stroke="#10109a" stroke-width="0.7" />
<line x1="331.7" y1="84.8" x2="334.90000000000003" y2="84.8" stroke="#10109a" stroke-width="0.7" />
<line x1="331.7" y1="86.39999999999999" x2="334.90000000000003" y2="86.39999999999999" stroke="#10109a" stroke-width="0.7" />
<circle cx="333.3" cy="85.6" r="1.8375000000000001" fill="#10109a"/>
<line x1="380.3" y1="63.4" x2="380.3" y2="66.2" stroke="#10109a" stroke-width="0.7" />
<line x1="378.7" y1="63.4" x2="381.90000000000003" y2="63.4" stroke="#10109a" stroke-width="0.7" />
<line x1="378.7" y1="66.2" x2="381.90000000000003" y2="66.2" stroke="#10109a" stroke-width="0.7" />
<circle cx="380.3" cy="64.8" r="1.8375000000000001" fill="#10109a"/>
<line x1="427.3" y1="47.8" x2="427.3" y2="53.0" stroke="#10109a" stroke-width="0.7" />
<line x1="425.7" y1="47.8" x2="428.90000000000003" y2="47.8" stroke="#10109a" stroke-width="0.7" />
<line x1="425.7" y1="53.0" x2="428.90000000000003" y2="53.0" stroke="#10109a" stroke-width="0.7" />
<circle cx="427.3" cy="50.4" r="1.8375000000000001" fill="#10109a"/>
<circle cx="262.8" cy="159.2" r="1.8375000000000001" fill="#f0383c"/>
<line x1="286.3" y1="102.5" x2="286.3" y2="104.1" stroke="#f0383c" stroke-width="0.7" />
<line x1="284.7" y1="102.5" x2="287.90000000000003" y2="102.5" stroke="#f0383c" stroke-width="0.7" />
<line x1="284.7" y1="104.1" x2="287.90000000000003" y2="104.1" stroke="#f0383c" stroke-width="0.7" />
<circle cx="286.3" cy="103.3" r="1.8375000000000001" fill="#f0383c"/>
<line x1="333.3" y1="78.7" x2="333.3" y2="80.7" stroke="#f0383c" stroke-width="0.7" />
<line x1="331.7" y1="78.7" x2="334.90000000000003" y2="78.7" stroke="#f0383c" stroke-width="0.7" />
<line x1="331.7" y1="80.7" x2="334.90000000000003" y2="80.7" stroke="#f0383c" stroke-width="0.7" />
<circle cx="333.3" cy="79.7" r="1.8375000000000001" fill="#f0383c"/>
<line x1="380.3" y1="54.2" x2="380.3" y2="57.0" stroke="#f0383c" stroke-width="0.7" />
<line x1="378.7" y1="54.2" x2="381.90000000000003" y2="54.2" stroke="#f0383c" stroke-width="0.7" />
<line x1="378.7" y1="57.0" x2="381.90000000000003" y2="57.0" stroke="#f0383c" stroke-width="0.7" />
<circle cx="380.3" cy="55.6" r="1.8375000000000001" fill="#f0383c"/>
<line x1="427.3" y1="40.300000000000004" x2="427.3" y2="45.1" stroke="#f0383c" stroke-width="0.7" />
<line x1="425.7" y1="40.300000000000004" x2="428.90000000000003" y2="40.300000000000004" stroke="#f0383c" stroke-width="0.7" />
<line x1="425.7" y1="45.1" x2="428.90000000000003" y2="45.1" stroke="#f0383c" stroke-width="0.7" />
<circle cx="427.3" cy="42.7" r="1.8375000000000001" fill="#f0383c"/>
<polygon points="262.8,157.0125 260.7,160.77499999999998 264.90000000000003,160.77499999999998" fill="#2a6ae0"/>
<line x1="286.3" y1="99.5" x2="286.3" y2="101.1" stroke="#2a6ae0" stroke-width="0.7" />
<line x1="284.7" y1="99.5" x2="287.90000000000003" y2="99.5" stroke="#2a6ae0" stroke-width="0.7" />
<line x1="284.7" y1="101.1" x2="287.90000000000003" y2="101.1" stroke="#2a6ae0" stroke-width="0.7" />
<polygon points="286.3,98.1125 284.2,101.875 288.40000000000003,101.875" fill="#2a6ae0"/>
<line x1="333.3" y1="73.9" x2="333.3" y2="75.9" stroke="#2a6ae0" stroke-width="0.7" />
<line x1="331.7" y1="73.9" x2="334.90000000000003" y2="73.9" stroke="#2a6ae0" stroke-width="0.7" />
<line x1="331.7" y1="75.9" x2="334.90000000000003" y2="75.9" stroke="#2a6ae0" stroke-width="0.7" />
<polygon points="333.3,72.7125 331.2,76.47500000000001 335.40000000000003,76.47500000000001" fill="#2a6ae0"/>
<line x1="380.3" y1="48.6" x2="380.3" y2="51.4" stroke="#2a6ae0" stroke-width="0.7" />
<line x1="378.7" y1="48.6" x2="381.90000000000003" y2="48.6" stroke="#2a6ae0" stroke-width="0.7" />
<line x1="378.7" y1="51.4" x2="381.90000000000003" y2="51.4" stroke="#2a6ae0" stroke-width="0.7" />
<polygon points="380.3,47.8125 378.2,51.575 382.40000000000003,51.575" fill="#2a6ae0"/>
<line x1="427.3" y1="36.300000000000004" x2="427.3" y2="41.1" stroke="#2a6ae0" stroke-width="0.7" />
<line x1="425.7" y1="36.300000000000004" x2="428.90000000000003" y2="36.300000000000004" stroke="#2a6ae0" stroke-width="0.7" />
<line x1="425.7" y1="41.1" x2="428.90000000000003" y2="41.1" stroke="#2a6ae0" stroke-width="0.7" />
<polygon points="427.3,36.5125 425.2,40.275000000000006 429.40000000000003,40.275000000000006" fill="#2a6ae0"/>
<polygon points="262.8,161.3875 260.7,157.625 264.90000000000003,157.625" fill="#3aaa66"/>
<line x1="286.3" y1="97.8" x2="286.3" y2="99.39999999999999" stroke="#3aaa66" stroke-width="0.7" />
<line x1="284.7" y1="97.8" x2="287.90000000000003" y2="97.8" stroke="#3aaa66" stroke-width="0.7" />
<line x1="284.7" y1="99.39999999999999" x2="287.90000000000003" y2="99.39999999999999" stroke="#3aaa66" stroke-width="0.7" />
<polygon points="286.3,100.7875 284.2,97.02499999999999 288.40000000000003,97.02499999999999" fill="#3aaa66"/>
<line x1="333.3" y1="72.4" x2="333.3" y2="74.4" stroke="#3aaa66" stroke-width="0.7" />
<line x1="331.7" y1="72.4" x2="334.90000000000003" y2="72.4" stroke="#3aaa66" stroke-width="0.7" />
<line x1="331.7" y1="74.4" x2="334.90000000000003" y2="74.4" stroke="#3aaa66" stroke-width="0.7" />
<polygon points="333.3,75.5875 331.2,71.825 335.40000000000003,71.825" fill="#3aaa66"/>
<line x1="380.3" y1="46.8" x2="380.3" y2="50.0" stroke="#3aaa66" stroke-width="0.7" />
<line x1="378.7" y1="46.8" x2="381.90000000000003" y2="46.8" stroke="#3aaa66" stroke-width="0.7" />
<line x1="378.7" y1="50.0" x2="381.90000000000003" y2="50.0" stroke="#3aaa66" stroke-width="0.7" />
<polygon points="380.3,50.5875 378.2,46.824999999999996 382.40000000000003,46.824999999999996" fill="#3aaa66"/>
<line x1="427.3" y1="32.5" x2="427.3" y2="38.5" stroke="#3aaa66" stroke-width="0.7" />
<line x1="425.7" y1="32.5" x2="428.90000000000003" y2="32.5" stroke="#3aaa66" stroke-width="0.7" />
<line x1="425.7" y1="38.5" x2="428.90000000000003" y2="38.5" stroke="#3aaa66" stroke-width="0.7" />
<polygon points="427.3,37.6875 425.2,33.925 429.40000000000003,33.925" fill="#3aaa66"/>
<line x1="378.6" y1="78.8" x2="395.1" y2="78.8" stroke="#10109a" stroke-width="0.9" opacity="0.7"/>
<circle cx="386.9" cy="78.8" r="1.785" fill="#10109a"/>
<text transform="translate(396.8 81.5) scale(1 1.08)" font-size="7.35" text-anchor="start" font-weight="normal" >1 kPa</text>
<line x1="378.6" y1="87.6" x2="395.1" y2="87.6" stroke="#f0383c" stroke-width="0.9" opacity="0.7"/>
<circle cx="386.9" cy="87.6" r="1.785" fill="#f0383c"/>
<text transform="translate(396.8 90.3) scale(1 1.08)" font-size="7.35" text-anchor="start" font-weight="normal" >5 kPa</text>
<line x1="378.6" y1="96.4" x2="395.1" y2="96.4" stroke="#2a6ae0" stroke-width="0.9" opacity="0.7"/>
<polygon points="386.9,94.275 384.85999999999996,97.93 388.94,97.93" fill="#2a6ae0"/>
<text transform="translate(396.8 99.1) scale(1 1.08)" font-size="7.35" text-anchor="start" font-weight="normal" >10 kPa</text>
<line x1="378.6" y1="105.2" x2="395.1" y2="105.2" stroke="#3aaa66" stroke-width="0.9" opacity="0.7"/>
<polygon points="386.9,107.325 384.85999999999996,103.67 388.94,103.67" fill="#3aaa66"/>
<text transform="translate(396.8 107.9) scale(1 1.08)" font-size="7.35" text-anchor="start" font-weight="normal" >15 kPa</text>
<line x1="262.5" y1="197.4" x2="262.5" y2="339.6" stroke="#3a3a3a" stroke-width="1" />
<line x1="262.0" y1="339.6" x2="439.5" y2="339.6" stroke="#3a3a3a" stroke-width="1" />
<line x1="262.5" y1="197.4" x2="439.0" y2="197.4" stroke="#3a3a3a" stroke-width="1" />
<line x1="439.0" y1="197.4" x2="439.0" y2="339.6" stroke="#3a3a3a" stroke-width="1" />
<line x1="262.5" y1="339.6" x2="262.5" y2="342.6" stroke="#3a3a3a" stroke-width="1" />
<text transform="translate(262.1 350.4) scale(1 1.08)" font-size="7.35" text-anchor="middle" font-weight="normal" >0</text>
<line x1="273.5" y1="339.6" x2="273.5" y2="341.3" stroke="#3a3a3a" stroke-width="1" />
<line x1="284.5" y1="339.6" x2="284.5" y2="342.6" stroke="#3a3a3a" stroke-width="1" />
<text transform="translate(284.14 350.4) scale(1 1.08)" font-size="7.35" text-anchor="middle" font-weight="normal" >2</text>
<line x1="295.5" y1="339.6" x2="295.5" y2="341.3" stroke="#3a3a3a" stroke-width="1" />
<line x1="306.5" y1="339.6" x2="306.5" y2="342.6" stroke="#3a3a3a" stroke-width="1" />
<text transform="translate(306.18 350.4) scale(1 1.08)" font-size="7.35" text-anchor="middle" font-weight="normal" >4</text>
<line x1="317.5" y1="339.6" x2="317.5" y2="341.3" stroke="#3a3a3a" stroke-width="1" />
<line x1="328.5" y1="339.6" x2="328.5" y2="342.6" stroke="#3a3a3a" stroke-width="1" />
<text transform="translate(328.22 350.4) scale(1 1.08)" font-size="7.35" text-anchor="middle" font-weight="normal" >6</text>
<line x1="339.5" y1="339.6" x2="339.5" y2="341.3" stroke="#3a3a3a" stroke-width="1" />
<line x1="350.5" y1="339.6" x2="350.5" y2="342.6" stroke="#3a3a3a" stroke-width="1" />
<text transform="translate(350.26 350.4) scale(1 1.08)" font-size="7.35" text-anchor="middle" font-weight="normal" >8</text>
<line x1="361.5" y1="339.6" x2="361.5" y2="341.3" stroke="#3a3a3a" stroke-width="1" />
<line x1="372.5" y1="339.6" x2="372.5" y2="342.6" stroke="#3a3a3a" stroke-width="1" />
<text transform="translate(372.3 350.4) scale(1 1.08)" font-size="7.35" text-anchor="middle" font-weight="normal" >10</text>
<line x1="383.5" y1="339.6" x2="383.5" y2="341.3" stroke="#3a3a3a" stroke-width="1" />
<line x1="394.5" y1="339.6" x2="394.5" y2="342.6" stroke="#3a3a3a" stroke-width="1" />
<text transform="translate(394.34 350.4) scale(1 1.08)" font-size="7.35" text-anchor="middle" font-weight="normal" >12</text>
<line x1="405.5" y1="339.6" x2="405.5" y2="341.3" stroke="#3a3a3a" stroke-width="1" />
<line x1="416.5" y1="339.6" x2="416.5" y2="342.6" stroke="#3a3a3a" stroke-width="1" />
<text transform="translate(416.38 350.4) scale(1 1.08)" font-size="7.35" text-anchor="middle" font-weight="normal" >14</text>
<line x1="427.5" y1="339.6" x2="427.5" y2="341.3" stroke="#3a3a3a" stroke-width="1" />
<line x1="438.5" y1="339.6" x2="438.5" y2="342.6" stroke="#3a3a3a" stroke-width="1" />
<text transform="translate(438.42 350.4) scale(1 1.08)" font-size="7.35" text-anchor="middle" font-weight="normal" >16</text>
<line x1="262.5" y1="339.5" x2="259.5" y2="339.5" stroke="#3a3a3a" stroke-width="1" />
<text transform="translate(257.2 342.4) scale(1 1.08)" font-size="7.35" text-anchor="end" font-weight="normal" >0</text>
<line x1="262.5" y1="325.5" x2="260.8" y2="325.5" stroke="#3a3a3a" stroke-width="1" />
<line x1="262.5" y1="311.5" x2="259.5" y2="311.5" stroke="#3a3a3a" stroke-width="1" />
<text transform="translate(257.2 313.92) scale(1 1.08)" font-size="7.35" text-anchor="end" font-weight="normal" >10000</text>
<line x1="262.5" y1="297.5" x2="260.8" y2="297.5" stroke="#3a3a3a" stroke-width="1" />
<line x1="262.5" y1="282.5" x2="259.5" y2="282.5" stroke="#3a3a3a" stroke-width="1" />
<text transform="translate(257.2 285.44) scale(1 1.08)" font-size="7.35" text-anchor="end" font-weight="normal" >20000</text>
<line x1="262.5" y1="268.5" x2="260.8" y2="268.5" stroke="#3a3a3a" stroke-width="1" />
<line x1="262.5" y1="254.5" x2="259.5" y2="254.5" stroke="#3a3a3a" stroke-width="1" />
<text transform="translate(257.2 256.96) scale(1 1.08)" font-size="7.35" text-anchor="end" font-weight="normal" >30000</text>
<line x1="262.5" y1="240.5" x2="260.8" y2="240.5" stroke="#3a3a3a" stroke-width="1" />
<line x1="262.5" y1="225.5" x2="259.5" y2="225.5" stroke="#3a3a3a" stroke-width="1" />
<text transform="translate(257.2 228.48) scale(1 1.08)" font-size="7.35" text-anchor="end" font-weight="normal" >40000</text>
<line x1="262.5" y1="211.5" x2="260.8" y2="211.5" stroke="#3a3a3a" stroke-width="1" />
<line x1="262.5" y1="197.5" x2="259.5" y2="197.5" stroke="#3a3a3a" stroke-width="1" />
<text transform="translate(257.2 200.0) scale(1 1.08)" font-size="7.35" text-anchor="end" font-weight="normal" >50000</text>
<text x="219.5" y="200.7" font-size="9.8" font-weight="bold">d</text>
<text transform="translate(228.3,268.3) rotate(-90)" font-size="7.22" text-anchor="middle">CH<tspan font-size="5.0" dy="1.6">4</tspan><tspan dy="-1.6"> conversion rate (μmol g<tspan font-size="4.6" dy="-2.9">−1</tspan><tspan dy="2.9"> h<tspan font-size="4.6" dy="-2.9">−1</tspan><tspan dy="2.9">)</tspan></tspan></tspan></text>
<text transform="translate(350.4 361.8) scale(1 1.08)" font-size="7.5" text-anchor="middle" font-weight="normal" >O<tspan font-size="5.0" dy="1.6">2</tspan><tspan dy="-1.6"> partial pressure (kPa)</tspan></text>
<polyline points="262.10,339.60 273.12,290.10 317.20,283.20 372.30,279.80 427.40,279.10" fill="none" stroke="#10109a" stroke-width="0.8" stroke-linejoin="round" />
<polyline points="262.10,339.60 273.12,265.40 317.20,259.20 372.30,255.10 427.40,254.20" fill="none" stroke="#f0383c" stroke-width="0.8" stroke-linejoin="round" />
<polyline points="262.10,339.60 273.12,245.30 317.20,235.60 372.30,230.10 427.40,228.20" fill="none" stroke="#2a6ae0" stroke-width="0.8" stroke-linejoin="round" />
<polyline points="262.10,339.60 273.12,230.30 317.20,222.10 372.30,218.00 427.40,215.30" fill="none" stroke="#3aaa66" stroke-width="0.8" stroke-linejoin="round" />
<rect x="260.35" y="337.85" width="3.5" height="3.5" fill="#10109a"/>
<line x1="273.12" y1="289.5" x2="273.12" y2="290.70000000000005" stroke="#10109a" stroke-width="0.7" />
<line x1="271.52" y1="289.5" x2="274.72" y2="289.5" stroke="#10109a" stroke-width="0.7" />
<line x1="271.52" y1="290.70000000000005" x2="274.72" y2="290.70000000000005" stroke="#10109a" stroke-width="0.7" />
<rect x="271.37" y="288.35" width="3.5" height="3.5" fill="#10109a"/>
<line x1="317.20000000000005" y1="282.4" x2="317.20000000000005" y2="284.0" stroke="#10109a" stroke-width="0.7" />
<line x1="315.6" y1="282.4" x2="318.80000000000007" y2="282.4" stroke="#10109a" stroke-width="0.7" />
<line x1="315.6" y1="284.0" x2="318.80000000000007" y2="284.0" stroke="#10109a" stroke-width="0.7" />
<rect x="315.45000000000005" y="281.45" width="3.5" height="3.5" fill="#10109a"/>
<line x1="372.3" y1="278.90000000000003" x2="372.3" y2="280.7" stroke="#10109a" stroke-width="0.7" />
<line x1="370.7" y1="278.90000000000003" x2="373.90000000000003" y2="278.90000000000003" stroke="#10109a" stroke-width="0.7" />
<line x1="370.7" y1="280.7" x2="373.90000000000003" y2="280.7" stroke="#10109a" stroke-width="0.7" />
<rect x="370.55" y="278.05" width="3.5" height="3.5" fill="#10109a"/>
<line x1="427.4" y1="278.1" x2="427.4" y2="280.1" stroke="#10109a" stroke-width="0.7" />
<line x1="425.79999999999995" y1="278.1" x2="429.0" y2="278.1" stroke="#10109a" stroke-width="0.7" />
<line x1="425.79999999999995" y1="280.1" x2="429.0" y2="280.1" stroke="#10109a" stroke-width="0.7" />
<rect x="425.65" y="277.35" width="3.5" height="3.5" fill="#10109a"/>
<circle cx="262.1" cy="339.6" r="1.8375000000000001" fill="#f0383c"/>
<line x1="273.12" y1="264.59999999999997" x2="273.12" y2="266.2" stroke="#f0383c" stroke-width="0.7" />
<line x1="271.52" y1="264.59999999999997" x2="274.72" y2="264.59999999999997" stroke="#f0383c" stroke-width="0.7" />
<line x1="271.52" y1="266.2" x2="274.72" y2="266.2" stroke="#f0383c" stroke-width="0.7" />
<circle cx="273.12" cy="265.4" r="1.8375000000000001" fill="#f0383c"/>
<line x1="317.20000000000005" y1="258.2" x2="317.20000000000005" y2="260.2" stroke="#f0383c" stroke-width="0.7" />
<line x1="315.6" y1="258.2" x2="318.80000000000007" y2="258.2" stroke="#f0383c" stroke-width="0.7" />
<line x1="315.6" y1="260.2" x2="318.80000000000007" y2="260.2" stroke="#f0383c" stroke-width="0.7" />
<circle cx="317.20000000000005" cy="259.2" r="1.8375000000000001" fill="#f0383c"/>
<line x1="372.3" y1="253.9" x2="372.3" y2="256.3" stroke="#f0383c" stroke-width="0.7" />
<line x1="370.7" y1="253.9" x2="373.90000000000003" y2="253.9" stroke="#f0383c" stroke-width="0.7" />
<line x1="370.7" y1="256.3" x2="373.90000000000003" y2="256.3" stroke="#f0383c" stroke-width="0.7" />
<circle cx="372.3" cy="255.1" r="1.8375000000000001" fill="#f0383c"/>
<line x1="427.4" y1="252.39999999999998" x2="427.4" y2="256.0" stroke="#f0383c" stroke-width="0.7" />
<line x1="425.79999999999995" y1="252.39999999999998" x2="429.0" y2="252.39999999999998" stroke="#f0383c" stroke-width="0.7" />
<line x1="425.79999999999995" y1="256.0" x2="429.0" y2="256.0" stroke="#f0383c" stroke-width="0.7" />
<circle cx="427.4" cy="254.2" r="1.8375000000000001" fill="#f0383c"/>
<polygon points="262.1,337.4125 260.0,341.175 264.20000000000005,341.175" fill="#2a6ae0"/>
<line x1="273.12" y1="243.8" x2="273.12" y2="246.8" stroke="#2a6ae0" stroke-width="0.7" />
<line x1="271.52" y1="243.8" x2="274.72" y2="243.8" stroke="#2a6ae0" stroke-width="0.7" />
<line x1="271.52" y1="246.8" x2="274.72" y2="246.8" stroke="#2a6ae0" stroke-width="0.7" />
<polygon points="273.12,243.1125 271.02,246.875 275.22,246.875" fill="#2a6ae0"/>
<line x1="317.20000000000005" y1="233.2" x2="317.20000000000005" y2="238.0" stroke="#2a6ae0" stroke-width="0.7" />
<line x1="315.6" y1="233.2" x2="318.80000000000007" y2="233.2" stroke="#2a6ae0" stroke-width="0.7" />
<line x1="315.6" y1="238.0" x2="318.80000000000007" y2="238.0" stroke="#2a6ae0" stroke-width="0.7" />
<polygon points="317.20000000000005,233.4125 315.1,237.17499999999998 319.30000000000007,237.17499999999998" fill="#2a6ae0"/>
<line x1="372.3" y1="227.29999999999998" x2="372.3" y2="232.9" stroke="#2a6ae0" stroke-width="0.7" />
<line x1="370.7" y1="227.29999999999998" x2="373.90000000000003" y2="227.29999999999998" stroke="#2a6ae0" stroke-width="0.7" />
<line x1="370.7" y1="232.9" x2="373.90000000000003" y2="232.9" stroke="#2a6ae0" stroke-width="0.7" />
<polygon points="372.3,227.9125 370.2,231.67499999999998 374.40000000000003,231.67499999999998" fill="#2a6ae0"/>
<line x1="427.4" y1="225.6" x2="427.4" y2="230.79999999999998" stroke="#2a6ae0" stroke-width="0.7" />
<line x1="425.79999999999995" y1="225.6" x2="429.0" y2="225.6" stroke="#2a6ae0" stroke-width="0.7" />
<line x1="425.79999999999995" y1="230.79999999999998" x2="429.0" y2="230.79999999999998" stroke="#2a6ae0" stroke-width="0.7" />
<polygon points="427.4,226.0125 425.29999999999995,229.77499999999998 429.5,229.77499999999998" fill="#2a6ae0"/>
<polygon points="262.1,341.7875 260.0,338.02500000000003 264.20000000000005,338.02500000000003" fill="#3aaa66"/>
<line x1="273.12" y1="227.9" x2="273.12" y2="232.70000000000002" stroke="#3aaa66" stroke-width="0.7" />
<line x1="271.52" y1="227.9" x2="274.72" y2="227.9" stroke="#3aaa66" stroke-width="0.7" />
<line x1="271.52" y1="232.70000000000002" x2="274.72" y2="232.70000000000002" stroke="#3aaa66" stroke-width="0.7" />
<polygon points="273.12,232.4875 271.02,228.72500000000002 275.22,228.72500000000002" fill="#3aaa66"/>
<line x1="317.20000000000005" y1="219.7" x2="317.20000000000005" y2="224.5" stroke="#3aaa66" stroke-width="0.7" />
<line x1="315.6" y1="219.7" x2="318.80000000000007" y2="219.7" stroke="#3aaa66" stroke-width="0.7" />
<line x1="315.6" y1="224.5" x2="318.80000000000007" y2="224.5" stroke="#3aaa66" stroke-width="0.7" />
<polygon points="317.20000000000005,224.2875 315.1,220.525 319.30000000000007,220.525" fill="#3aaa66"/>
<line x1="372.3" y1="214.8" x2="372.3" y2="221.2" stroke="#3aaa66" stroke-width="0.7" />
<line x1="370.7" y1="214.8" x2="373.90000000000003" y2="214.8" stroke="#3aaa66" stroke-width="0.7" />
<line x1="370.7" y1="221.2" x2="373.90000000000003" y2="221.2" stroke="#3aaa66" stroke-width="0.7" />
<polygon points="372.3,220.1875 370.2,216.425 374.40000000000003,216.425" fill="#3aaa66"/>
<line x1="427.4" y1="212.3" x2="427.4" y2="218.3" stroke="#3aaa66" stroke-width="0.7" />
<line x1="425.79999999999995" y1="212.3" x2="429.0" y2="212.3" stroke="#3aaa66" stroke-width="0.7" />
<line x1="425.79999999999995" y1="218.3" x2="429.0" y2="218.3" stroke="#3aaa66" stroke-width="0.7" />
<polygon points="427.4,217.4875 425.29999999999995,213.72500000000002 429.5,213.72500000000002" fill="#3aaa66"/>
<line x1="362.0" y1="296.0" x2="378.5" y2="296.0" stroke="#10109a" stroke-width="0.9" opacity="0.7"/>
<rect x="368.6" y="294.3" width="3.4" height="3.4" fill="#10109a"/>
<text transform="translate(380.6 298.7) scale(1 1.08)" font-size="7.35" text-anchor="start" font-weight="normal" >10 kPa</text>
<line x1="362.0" y1="304.9" x2="378.5" y2="304.9" stroke="#f0383c" stroke-width="0.9" opacity="0.7"/>
<circle cx="370.3" cy="304.9" r="1.785" fill="#f0383c"/>
<text transform="translate(380.6 307.6) scale(1 1.08)" font-size="7.35" text-anchor="start" font-weight="normal" >30 kPa</text>
<line x1="362.0" y1="313.8" x2="378.5" y2="313.8" stroke="#2a6ae0" stroke-width="0.9" opacity="0.7"/>
<polygon points="370.3,311.675 368.26,315.33 372.34000000000003,315.33" fill="#2a6ae0"/>
<text transform="translate(380.6 316.5) scale(1 1.08)" font-size="7.35" text-anchor="start" font-weight="normal" >50 kPa</text>
<line x1="362.0" y1="322.7" x2="378.5" y2="322.7" stroke="#3aaa66" stroke-width="0.9" opacity="0.7"/>
<polygon points="370.3,324.825 368.26,321.17 372.34000000000003,321.17" fill="#3aaa66"/>
<text transform="translate(380.6 325.4) scale(1 1.08)" font-size="7.35" text-anchor="start" font-weight="normal" >70 kPa</text>
<rect x="518.0" y="113.1" width="17.799999999999955" height="47.30000000000001" fill="#57b0a6"/>
<rect x="535.8" y="139.8" width="17.800000000000068" height="20.599999999999994" fill="#e88884"/>
<rect x="606.4" y="48.1" width="18.0" height="112.30000000000001" fill="#57b0a6"/>
<rect x="624.4" y="107.5" width="17.800000000000068" height="52.900000000000006" fill="#e88884"/>
<line x1="526.9" y1="111.6" x2="526.9" y2="114.6" stroke="#151515" stroke-width="0.9" />
<line x1="525.5" y1="111.6" x2="528.3" y2="111.6" stroke="#151515" stroke-width="0.9" />
<line x1="525.5" y1="114.6" x2="528.3" y2="114.6" stroke="#151515" stroke-width="0.9" />
<line x1="544.7" y1="138.6" x2="544.7" y2="141.0" stroke="#151515" stroke-width="0.9" />
<line x1="543.3000000000001" y1="138.6" x2="546.1" y2="138.6" stroke="#151515" stroke-width="0.9" />
<line x1="543.3000000000001" y1="141.0" x2="546.1" y2="141.0" stroke="#151515" stroke-width="0.9" />
<line x1="615.4" y1="46.1" x2="615.4" y2="50.6" stroke="#151515" stroke-width="0.9" />
<line x1="614.0" y1="46.1" x2="616.8" y2="46.1" stroke="#151515" stroke-width="0.9" />
<line x1="614.0" y1="50.6" x2="616.8" y2="50.6" stroke="#151515" stroke-width="0.9" />
<line x1="633.3" y1="106.1" x2="633.3" y2="109.0" stroke="#151515" stroke-width="0.9" />
<line x1="631.9" y1="106.1" x2="634.6999999999999" y2="106.1" stroke="#151515" stroke-width="0.9" />
<line x1="631.9" y1="109.0" x2="634.6999999999999" y2="109.0" stroke="#151515" stroke-width="0.9" />
<line x1="491.6" y1="18.0" x2="491.6" y2="160.4" stroke="#3a3a3a" stroke-width="1" />
<line x1="491.1" y1="160.4" x2="669.0" y2="160.4" stroke="#3a3a3a" stroke-width="1" />
<line x1="491.6" y1="18.0" x2="668.5" y2="18.0" stroke="#3a3a3a" stroke-width="1" />
<line x1="668.5" y1="18.0" x2="668.5" y2="160.4" stroke="#3a3a3a" stroke-width="1" />
<line x1="491.6" y1="160.5" x2="488.6" y2="160.5" stroke="#3a3a3a" stroke-width="1" />
<text transform="translate(486.3 163.0) scale(1 1.08)" font-size="7.35" text-anchor="end" font-weight="normal" >0</text>
<line x1="491.6" y1="148.5" x2="489.90000000000003" y2="148.5" stroke="#3a3a3a" stroke-width="1" />
<line x1="491.6" y1="136.5" x2="488.6" y2="136.5" stroke="#3a3a3a" stroke-width="1" />
<text transform="translate(486.3 139.18) scale(1 1.08)" font-size="7.35" text-anchor="end" font-weight="normal" >5000</text>
<line x1="491.6" y1="124.5" x2="489.90000000000003" y2="124.5" stroke="#3a3a3a" stroke-width="1" />
<line x1="491.6" y1="112.5" x2="488.6" y2="112.5" stroke="#3a3a3a" stroke-width="1" />
<text transform="translate(486.3 115.37) scale(1 1.08)" font-size="7.35" text-anchor="end" font-weight="normal" >10000</text>
<line x1="491.6" y1="100.5" x2="489.90000000000003" y2="100.5" stroke="#3a3a3a" stroke-width="1" />
<line x1="491.6" y1="88.5" x2="488.6" y2="88.5" stroke="#3a3a3a" stroke-width="1" />
<text transform="translate(486.3 91.55) scale(1 1.08)" font-size="7.35" text-anchor="end" font-weight="normal" >15000</text>
<line x1="491.6" y1="77.5" x2="489.90000000000003" y2="77.5" stroke="#3a3a3a" stroke-width="1" />
<line x1="491.6" y1="65.5" x2="488.6" y2="65.5" stroke="#3a3a3a" stroke-width="1" />
<text transform="translate(486.3 67.73) scale(1 1.08)" font-size="7.35" text-anchor="end" font-weight="normal" >20000</text>
<line x1="491.6" y1="53.5" x2="489.90000000000003" y2="53.5" stroke="#3a3a3a" stroke-width="1" />
<line x1="491.6" y1="41.5" x2="488.6" y2="41.5" stroke="#3a3a3a" stroke-width="1" />
<text transform="translate(486.3 43.92) scale(1 1.08)" font-size="7.35" text-anchor="end" font-weight="normal" >25000</text>
<line x1="491.6" y1="29.5" x2="489.90000000000003" y2="29.5" stroke="#3a3a3a" stroke-width="1" />
<line x1="491.6" y1="17.5" x2="488.6" y2="17.5" stroke="#3a3a3a" stroke-width="1" />
<text transform="translate(486.3 20.1) scale(1 1.08)" font-size="7.35" text-anchor="end" font-weight="normal" >30000</text>
<line x1="535.5" y1="160.4" x2="535.5" y2="163.4" stroke="#3a3a3a" stroke-width="1" />
<line x1="580.5" y1="160.4" x2="580.5" y2="162.1" stroke="#3a3a3a" stroke-width="1" />
<line x1="624.5" y1="160.4" x2="624.5" y2="163.4" stroke="#3a3a3a" stroke-width="1" />
<text x="449.4" y="20.2" font-size="9.8" font-weight="bold">e</text>
<text transform="translate(461.6,88.7) rotate(-90)" font-size="7.22" text-anchor="middle">CH<tspan font-size="5.0" dy="1.6">4</tspan><tspan dy="-1.6"> conversion rate (μmol g<tspan font-size="4.6" dy="-2.9">−1</tspan><tspan dy="2.9"> h<tspan font-size="4.6" dy="-2.9">−1</tspan><tspan dy="2.9">)</tspan></tspan></tspan></text>
<text transform="translate(533.5 171.1) scale(1 1.08)" font-size="7.35" text-anchor="middle" font-weight="normal" >Au/ZnO</text>
<text transform="translate(624.2 171.1) scale(1 1.08)" font-size="7.35" text-anchor="middle" font-weight="normal" >Au/1.0%CeO<tspan font-size="5.0" dy="1.6">2</tspan><tspan dy="-1.6">/ZnO</tspan></text>
<text transform="translate(580.7 184.1) scale(1 1.08)" font-size="7.45" text-anchor="middle" font-weight="normal" >Light intensity (mW cm<tspan font-size="4.6" dy="-2.9">−2</tspan><tspan dy="2.9">)</tspan></text>
<text transform="translate(535.9 106.3) scale(1 1.08)" font-size="7.35" text-anchor="middle" font-weight="normal" >KIE=2.33</text>
<text transform="translate(624.1 41.8) scale(1 1.08)" font-size="7.35" text-anchor="middle" font-weight="normal" >KIE=2.12</text>
<rect x="499.1" y="23.3" width="16.299999999999955" height="7.699999999999999" fill="#57b0a6"/>
<rect x="499.1" y="34.0" width="16.299999999999955" height="7.700000000000003" fill="#e88884"/>
<text transform="translate(517.7 30.0) scale(1 1.08)" font-size="7.35" text-anchor="start" font-weight="normal" >CH<tspan font-size="5.0" dy="1.6">4</tspan><tspan dy="-1.6">+O<tspan font-size="5.0" dy="1.6">2</tspan><tspan dy="-1.6"></tspan></tspan></text>
<text transform="translate(517.7 40.8) scale(1 1.08)" font-size="7.35" text-anchor="start" font-weight="normal" >CD<tspan font-size="5.0" dy="1.6">4</tspan><tspan dy="-1.6">+O<tspan font-size="5.0" dy="1.6">2</tspan><tspan dy="-1.6"></tspan></tspan></text>
<rect x="517.0" y="287.1" width="18.200000000000045" height="52.39999999999998" fill="#57b0a6"/>
<rect x="535.2" y="289.1" width="17.699999999999932" height="50.39999999999998" fill="#d0c46e"/>
<rect x="606.3" y="217.1" width="17.800000000000068" height="122.4" fill="#57b0a6"/>
<rect x="624.1" y="220.4" width="17.799999999999955" height="119.1" fill="#d0c46e"/>
<line x1="526.1" y1="285.8" x2="526.1" y2="288.6" stroke="#151515" stroke-width="0.9" />
<line x1="524.7" y1="285.8" x2="527.5" y2="285.8" stroke="#151515" stroke-width="0.9" />
<line x1="524.7" y1="288.6" x2="527.5" y2="288.6" stroke="#151515" stroke-width="0.9" />
<line x1="544.0" y1="287.6" x2="544.0" y2="290.6" stroke="#151515" stroke-width="0.9" />
<line x1="542.6" y1="287.6" x2="545.4" y2="287.6" stroke="#151515" stroke-width="0.9" />
<line x1="542.6" y1="290.6" x2="545.4" y2="290.6" stroke="#151515" stroke-width="0.9" />
<line x1="615.2" y1="214.3" x2="615.2" y2="219.8" stroke="#151515" stroke-width="0.9" />
<line x1="613.8000000000001" y1="214.3" x2="616.6" y2="214.3" stroke="#151515" stroke-width="0.9" />
<line x1="613.8000000000001" y1="219.8" x2="616.6" y2="219.8" stroke="#151515" stroke-width="0.9" />
<line x1="633.0" y1="218.2" x2="633.0" y2="222.8" stroke="#151515" stroke-width="0.9" />
<line x1="631.6" y1="218.2" x2="634.4" y2="218.2" stroke="#151515" stroke-width="0.9" />
<line x1="631.6" y1="222.8" x2="634.4" y2="222.8" stroke="#151515" stroke-width="0.9" />
<line x1="490.6" y1="196.4" x2="490.6" y2="339.5" stroke="#3a3a3a" stroke-width="1" />
<line x1="490.1" y1="339.5" x2="669.0" y2="339.5" stroke="#3a3a3a" stroke-width="1" />
<line x1="490.6" y1="196.4" x2="668.5" y2="196.4" stroke="#3a3a3a" stroke-width="1" />
<line x1="668.5" y1="196.4" x2="668.5" y2="339.5" stroke="#3a3a3a" stroke-width="1" />
<line x1="490.6" y1="339.5" x2="487.6" y2="339.5" stroke="#3a3a3a" stroke-width="1" />
<text transform="translate(485.6 342.2) scale(1 1.08)" font-size="7.35" text-anchor="end" font-weight="normal" >0</text>
<line x1="490.6" y1="326.5" x2="488.90000000000003" y2="326.5" stroke="#3a3a3a" stroke-width="1" />
<line x1="490.6" y1="313.5" x2="487.6" y2="313.5" stroke="#3a3a3a" stroke-width="1" />
<text transform="translate(485.6 316.1) scale(1 1.08)" font-size="7.35" text-anchor="end" font-weight="normal" >5000</text>
<line x1="490.6" y1="300.5" x2="488.90000000000003" y2="300.5" stroke="#3a3a3a" stroke-width="1" />
<line x1="490.6" y1="287.5" x2="487.6" y2="287.5" stroke="#3a3a3a" stroke-width="1" />
<text transform="translate(485.6 290.0) scale(1 1.08)" font-size="7.35" text-anchor="end" font-weight="normal" >10000</text>
<line x1="490.6" y1="274.5" x2="488.90000000000003" y2="274.5" stroke="#3a3a3a" stroke-width="1" />
<line x1="490.6" y1="261.5" x2="487.6" y2="261.5" stroke="#3a3a3a" stroke-width="1" />
<text transform="translate(485.6 263.9) scale(1 1.08)" font-size="7.35" text-anchor="end" font-weight="normal" >15000</text>
<line x1="490.6" y1="248.5" x2="488.90000000000003" y2="248.5" stroke="#3a3a3a" stroke-width="1" />
<line x1="490.6" y1="235.5" x2="487.6" y2="235.5" stroke="#3a3a3a" stroke-width="1" />
<text transform="translate(485.6 237.8) scale(1 1.08)" font-size="7.35" text-anchor="end" font-weight="normal" >20000</text>
<line x1="490.6" y1="222.5" x2="488.90000000000003" y2="222.5" stroke="#3a3a3a" stroke-width="1" />
<line x1="490.6" y1="209.5" x2="487.6" y2="209.5" stroke="#3a3a3a" stroke-width="1" />
<text transform="translate(485.6 211.7) scale(1 1.08)" font-size="7.35" text-anchor="end" font-weight="normal" >25000</text>
<line x1="490.6" y1="196.5" x2="488.90000000000003" y2="196.5" stroke="#3a3a3a" stroke-width="1" />
<line x1="535.5" y1="339.5" x2="535.5" y2="342.5" stroke="#3a3a3a" stroke-width="1" />
<line x1="579.5" y1="339.5" x2="579.5" y2="341.2" stroke="#3a3a3a" stroke-width="1" />
<line x1="624.5" y1="339.5" x2="624.5" y2="342.5" stroke="#3a3a3a" stroke-width="1" />
<text x="450.3" y="200.8" font-size="9.8" font-weight="bold">f</text>
<text transform="translate(461.0,267.8) rotate(-90)" font-size="7.22" text-anchor="middle">CH<tspan font-size="5.0" dy="1.6">4</tspan><tspan dy="-1.6"> conversion rate (μmol g<tspan font-size="4.6" dy="-2.9">−1</tspan><tspan dy="2.9"> h<tspan font-size="4.6" dy="-2.9">−1</tspan><tspan dy="2.9">)</tspan></tspan></tspan></text>
<text transform="translate(533.2 350.3) scale(1 1.08)" font-size="7.35" text-anchor="middle" font-weight="normal" >Au/ZnO</text>
<text transform="translate(623.9 350.3) scale(1 1.08)" font-size="7.35" text-anchor="middle" font-weight="normal" >Au/1.0%CeO<tspan font-size="5.0" dy="1.6">2</tspan><tspan dy="-1.6">/ZnO</tspan></text>
<text transform="translate(579.5 363.4) scale(1 1.08)" font-size="7.5" text-anchor="middle" font-weight="normal" >Light intensity (mW cm<tspan font-size="4.6" dy="-2.9">−2</tspan><tspan dy="2.9">)</tspan></text>
<text transform="translate(535.8 278.6) scale(1 1.08)" font-size="7.35" text-anchor="middle" font-weight="normal" >KIE=1.04</text>
<text transform="translate(623.7 210.0) scale(1 1.08)" font-size="7.35" text-anchor="middle" font-weight="normal" >KIE=1.03</text>
<rect x="498.3" y="203.0" width="16.499999999999943" height="7.699999999999989" fill="#57b0a6"/>
<rect x="498.3" y="214.6" width="16.499999999999943" height="7.900000000000006" fill="#d0c46e"/>
<text transform="translate(517.0 210.0) scale(1 1.08)" font-size="7.35" text-anchor="start" font-weight="normal" >CH<tspan font-size="5.0" dy="1.6">4</tspan><tspan dy="-1.6">+<tspan font-size="4.6" dy="-2.9">16</tspan><tspan dy="2.9">O<tspan font-size="5.0" dy="1.6">2</tspan><tspan dy="-1.6"></tspan></tspan></tspan></text>
<text transform="translate(517.0 221.6) scale(1 1.08)" font-size="7.35" text-anchor="start" font-weight="normal" >CH<tspan font-size="5.0" dy="1.6">4</tspan><tspan dy="-1.6">+<tspan font-size="4.6" dy="-2.9">18</tspan><tspan dy="2.9">O<tspan font-size="5.0" dy="1.6">2</tspan><tspan dy="-1.6"></tspan></tspan></tspan></text>
</svg>
</body></html>
